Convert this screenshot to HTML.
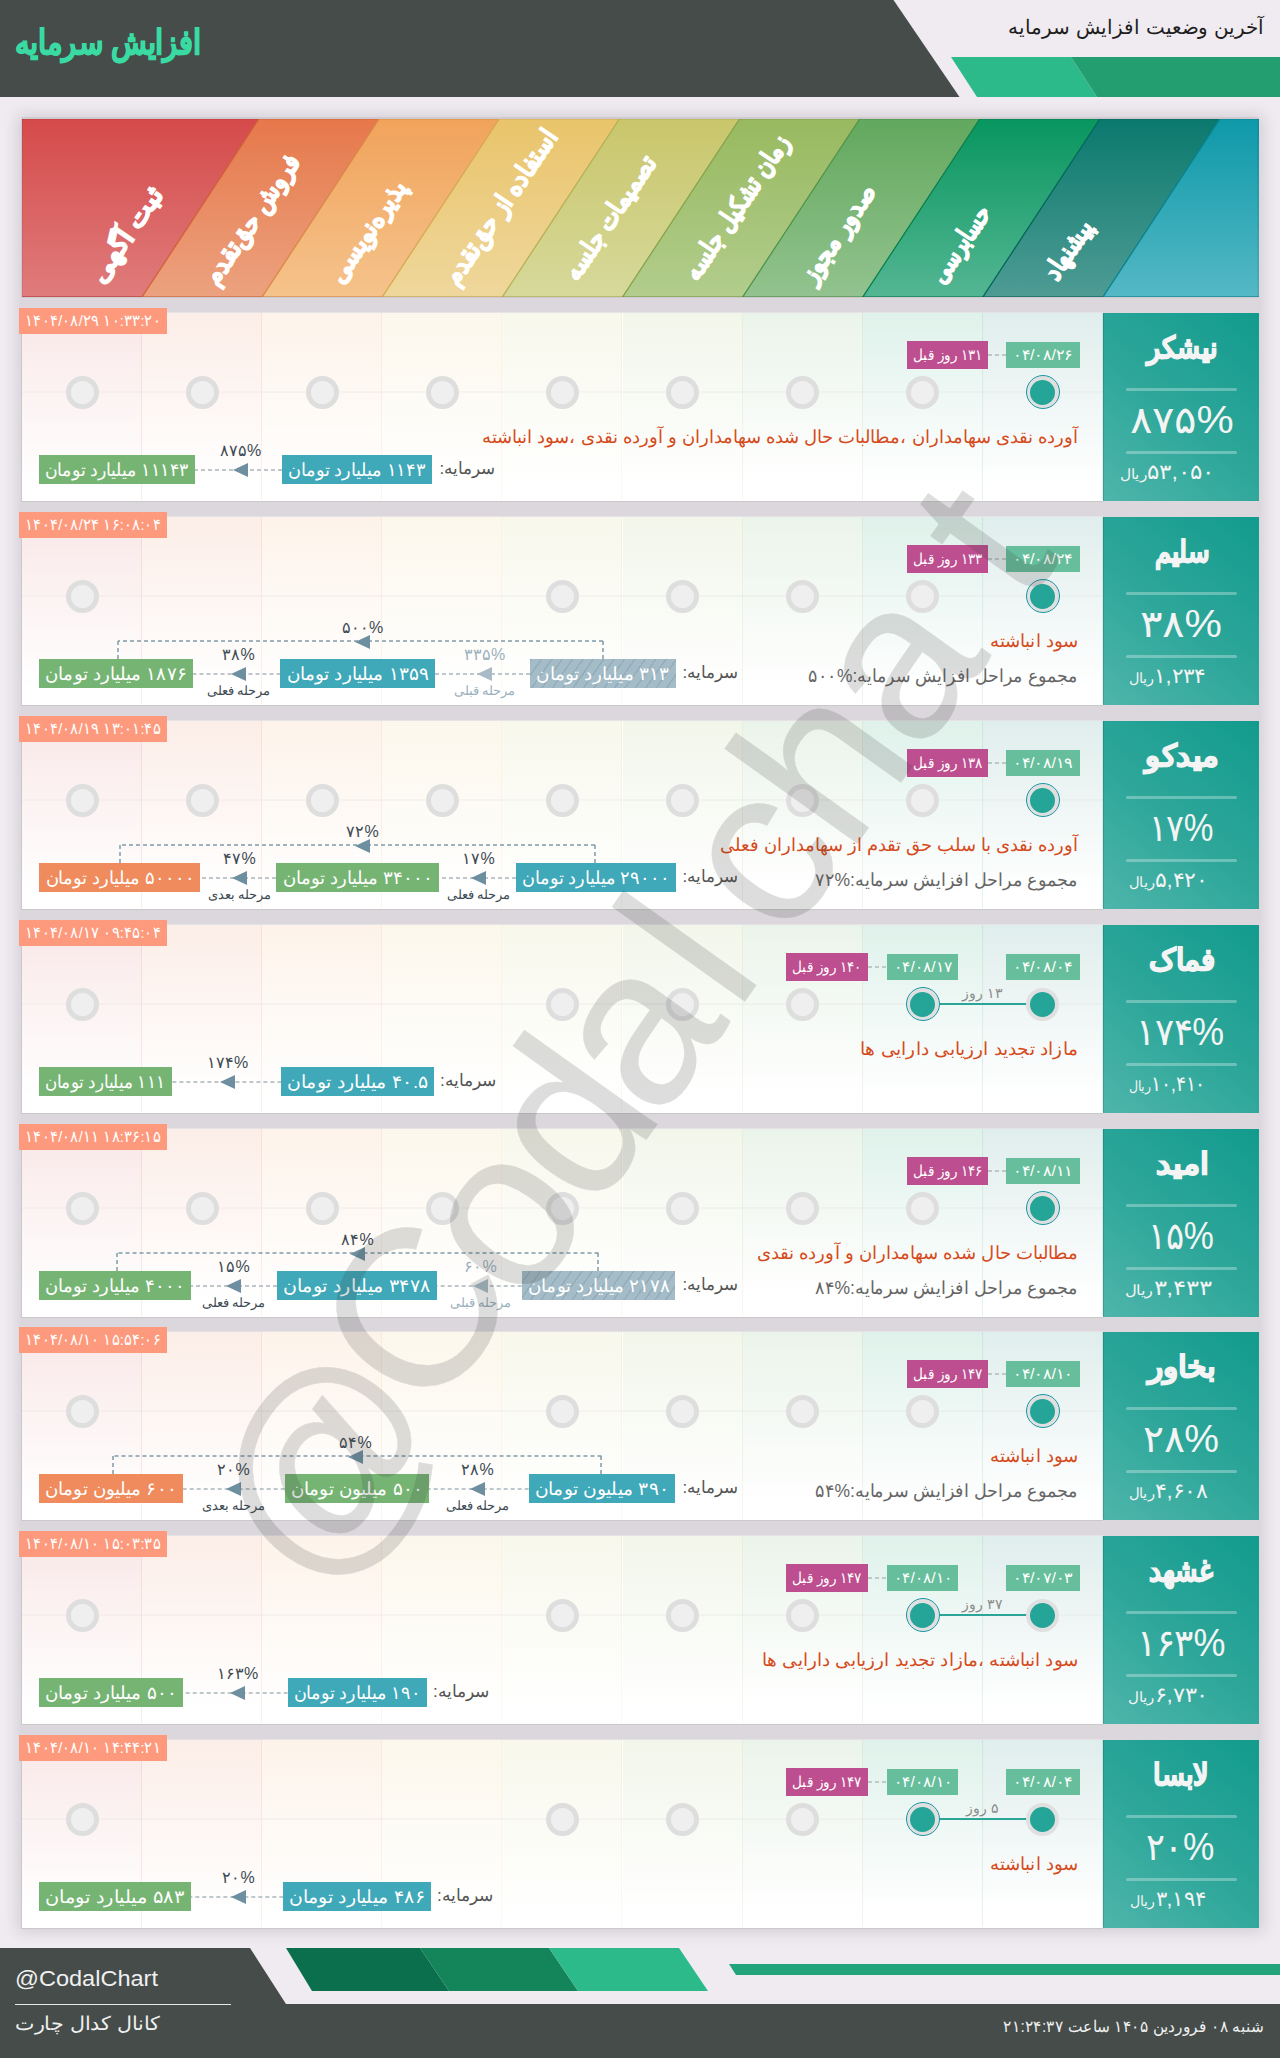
<!DOCTYPE html>
<html lang="fa"><head><meta charset="utf-8"><title>افزایش سرمایه</title>
<style>
html,body{margin:0;padding:0}
body{width:1280px;height:2058px;position:relative;overflow:hidden;background:#efebf0;font-family:"Liberation Sans",sans-serif}
.a{position:absolute}
.t{position:absolute;white-space:nowrap;overflow:visible}
.t>span{position:absolute;top:0;display:block;line-height:inherit}
</style></head><body>
<svg class="a" style="left:0;top:0" width="1280" height="100"><polygon points="0,0 893.5,0 959.5,97 0,97" fill="#454c4a"/><polygon points="951,57 1071,57 1097,97 977,97" fill="#2dba8a"/><polygon points="1071,57 1280,57 1280,97 1097,97" fill="#229e71"/></svg>
<div class="t" style="left:15.0px;top:15.0px;width:186.0px;height:54px;line-height:54px;direction:rtl;font-size:34.0px;color:#3adba3;font-weight:bold;-webkit-text-stroke:1.2px #3adba3;"><span id="t1" style="left:50%;transform:translateX(-50%) scaleX(0.859);transform-origin:50% 50%;">افزایش سرمایه</span></div>
<div class="t" style="left:1008.0px;top:11.0px;width:255.0px;height:32px;line-height:32px;direction:rtl;font-size:20.0px;color:#1e1e1e;font-weight:normal;"><span id="t2" style="left:50%;transform:translateX(-50%) scaleX(0.994);transform-origin:50% 50%;">آخرین وضعیت افزایش سرمایه</span></div>
<div class="a" style="left:22.0px;top:119.0px;width:1237.0px;height:1809.0px;background:#dbd7dc;box-shadow:0 0 14px 4px rgba(60,50,70,0.16);"></div>
<svg class="a" style="left:0;top:0" width="1280" height="300"><defs><linearGradient id="bg0" x1="0" y1="0" x2="0" y2="1"><stop offset="0" stop-color="#d54a4a"/><stop offset="1" stop-color="#e07c7c"/></linearGradient><linearGradient id="bg1" x1="0" y1="0" x2="0" y2="1"><stop offset="0" stop-color="#e6784b"/><stop offset="1" stop-color="#eca27f"/></linearGradient><linearGradient id="bg2" x1="0" y1="0" x2="0" y2="1"><stop offset="0" stop-color="#f1a35b"/><stop offset="1" stop-color="#f5c38c"/></linearGradient><linearGradient id="bg3" x1="0" y1="0" x2="0" y2="1"><stop offset="0" stop-color="#e9c46b"/><stop offset="1" stop-color="#efd79c"/></linearGradient><linearGradient id="bg4" x1="0" y1="0" x2="0" y2="1"><stop offset="0" stop-color="#c9c66b"/><stop offset="1" stop-color="#d7d99b"/></linearGradient><linearGradient id="bg5" x1="0" y1="0" x2="0" y2="1"><stop offset="0" stop-color="#98b95f"/><stop offset="1" stop-color="#b2cd8d"/></linearGradient><linearGradient id="bg6" x1="0" y1="0" x2="0" y2="1"><stop offset="0" stop-color="#62a85e"/><stop offset="1" stop-color="#93c38f"/></linearGradient><linearGradient id="bg7" x1="0" y1="0" x2="0" y2="1"><stop offset="0" stop-color="#08965f"/><stop offset="1" stop-color="#54b693"/></linearGradient><linearGradient id="bg8" x1="0" y1="0" x2="0" y2="1"><stop offset="0" stop-color="#0b796e"/><stop offset="1" stop-color="#4e9c94"/></linearGradient><linearGradient id="bg9" x1="0" y1="0" x2="0" y2="1"><stop offset="0" stop-color="#0e99a9"/><stop offset="1" stop-color="#55b8c5"/></linearGradient><clipPath id="stc"><rect x="22" y="119" width="1237" height="178"/></clipPath></defs><g clip-path="url(#stc)"><polygon points="-61.0,119 259.1,119 142.1,297 -178.0,297" fill="url(#bg0)" stroke="#c43c3c" stroke-width="1.2"/><polygon points="259.1,119 379.2,119 262.2,297 142.1,297" fill="url(#bg1)" stroke="#d4683c" stroke-width="1.2"/><polygon points="379.2,119 499.3,119 382.3,297 262.2,297" fill="url(#bg2)" stroke="#dc8f48" stroke-width="1.2"/><polygon points="499.3,119 619.4,119 502.4,297 382.3,297" fill="url(#bg3)" stroke="#d5ae55" stroke-width="1.2"/><polygon points="619.4,119 739.6,119 622.6,297 502.4,297" fill="url(#bg4)" stroke="#b3b258" stroke-width="1.2"/><polygon points="739.6,119 859.7,119 742.7,297 622.6,297" fill="url(#bg5)" stroke="#82a44c" stroke-width="1.2"/><polygon points="859.7,119 979.8,119 862.8,297 742.7,297" fill="url(#bg6)" stroke="#4f944c" stroke-width="1.2"/><polygon points="979.8,119 1099.9,119 982.9,297 862.8,297" fill="url(#bg7)" stroke="#067f50" stroke-width="1.2"/><polygon points="1099.9,119 1220.0,119 1103.0,297 982.9,297" fill="url(#bg8)" stroke="#06665c" stroke-width="1.2"/><polygon points="1220.0,119 1559.0,119 1559.0,297 1103.0,297" fill="url(#bg9)" stroke="#0b8898" stroke-width="1.2"/></g><rect x="22" y="118" width="1236" height="179" fill="none" stroke="rgba(0,0,0,0.12)" stroke-width="1"/></svg>
<div class="a" style="left:108.0px;top:288.0px;width:0;height:0"><div id="t3" style="position:absolute;left:0;bottom:0;height:30px;line-height:30px;transform-origin:0 100%;transform:rotate(-56.0deg) scaleX(1.072);white-space:nowrap;direction:rtl;font-size:26px;font-weight:bold;color:#fff;-webkit-text-stroke:1.3px #fff">ثبت آگهی</div></div>
<div class="a" style="left:221.5px;top:290.0px;width:0;height:0"><div id="t4" style="position:absolute;left:0;bottom:0;height:30px;line-height:30px;transform-origin:0 100%;transform:rotate(-56.0deg) scaleX(0.906);white-space:nowrap;direction:rtl;font-size:26px;font-weight:bold;color:#fff;-webkit-text-stroke:1.3px #fff">فروش حق‌تقدم</div></div>
<div class="a" style="left:346.5px;top:288.0px;width:0;height:0"><div id="t5" style="position:absolute;left:0;bottom:0;height:30px;line-height:30px;transform-origin:0 100%;transform:rotate(-56.0deg) scaleX(0.918);white-space:nowrap;direction:rtl;font-size:26px;font-weight:bold;color:#fff;-webkit-text-stroke:1.3px #fff">پذیره‌نویسی</div></div>
<div class="a" style="left:462.0px;top:290.0px;width:0;height:0"><div id="t6" style="position:absolute;left:0;bottom:0;height:30px;line-height:30px;transform-origin:0 100%;transform:rotate(-56.0deg) scaleX(0.876);white-space:nowrap;direction:rtl;font-size:26px;font-weight:bold;color:#fff;-webkit-text-stroke:1.3px #fff">استفاده از حق‌تقدم</div></div>
<div class="a" style="left:582.0px;top:285.0px;width:0;height:0"><div id="t7" style="position:absolute;left:0;bottom:0;height:30px;line-height:30px;transform-origin:0 100%;transform:rotate(-56.0deg) scaleX(0.848);white-space:nowrap;direction:rtl;font-size:26px;font-weight:bold;color:#fff;-webkit-text-stroke:1.3px #fff">تصمیمات جلسه</div></div>
<div class="a" style="left:702.0px;top:285.0px;width:0;height:0"><div id="t8" style="position:absolute;left:0;bottom:0;height:30px;line-height:30px;transform-origin:0 100%;transform:rotate(-56.0deg) scaleX(0.830);white-space:nowrap;direction:rtl;font-size:26px;font-weight:bold;color:#fff;-webkit-text-stroke:1.3px #fff">زمان تشکیل جلسه</div></div>
<div class="a" style="left:819.0px;top:288.0px;width:0;height:0"><div id="t9" style="position:absolute;left:0;bottom:0;height:30px;line-height:30px;transform-origin:0 100%;transform:rotate(-56.0deg) scaleX(0.888);white-space:nowrap;direction:rtl;font-size:26px;font-weight:bold;color:#fff;-webkit-text-stroke:1.3px #fff">صدور مجوز</div></div>
<div class="a" style="left:948.0px;top:288.0px;width:0;height:0"><div id="t10" style="position:absolute;left:0;bottom:0;height:30px;line-height:30px;transform-origin:0 100%;transform:rotate(-56.0deg) scaleX(0.775);white-space:nowrap;direction:rtl;font-size:26px;font-weight:bold;color:#fff;-webkit-text-stroke:1.3px #fff">حسابرسی</div></div>
<div class="a" style="left:1062.0px;top:285.0px;width:0;height:0"><div id="t11" style="position:absolute;left:0;bottom:0;height:30px;line-height:30px;transform-origin:0 100%;transform:rotate(-56.0deg) scaleX(0.842);white-space:nowrap;direction:rtl;font-size:26px;font-weight:bold;color:#fff;-webkit-text-stroke:1.3px #fff">پیشنهاد</div></div>
<div class="a" style="left:21px;top:312px;width:1082px;height:190px;box-sizing:border-box;background:#fff;border-left:1px solid #c9c9c9;border-bottom:1px solid #c9c9c9;border-top:1px solid #e6e3e6"><div class="a" style="left:0.0px;top:0;width:119.1px;height:187px;background:linear-gradient(to bottom,rgba(213,74,74,0.13),rgba(213,74,74,0.0) 92%);border-right:1px solid rgba(213,74,74,0.11)"></div><div class="a" style="left:120.1px;top:0;width:119.1px;height:187px;background:linear-gradient(to bottom,rgba(230,120,75,0.13),rgba(230,120,75,0.0) 92%);border-right:1px solid rgba(230,120,75,0.11)"></div><div class="a" style="left:240.2px;top:0;width:119.1px;height:187px;background:linear-gradient(to bottom,rgba(241,163,91,0.13),rgba(241,163,91,0.0) 92%);border-right:1px solid rgba(241,163,91,0.11)"></div><div class="a" style="left:360.3px;top:0;width:119.1px;height:187px;background:linear-gradient(to bottom,rgba(233,196,107,0.13),rgba(233,196,107,0.0) 92%);border-right:1px solid rgba(233,196,107,0.11)"></div><div class="a" style="left:480.4px;top:0;width:119.1px;height:187px;background:linear-gradient(to bottom,rgba(201,198,107,0.13),rgba(201,198,107,0.0) 92%);border-right:1px solid rgba(201,198,107,0.11)"></div><div class="a" style="left:600.6px;top:0;width:119.1px;height:187px;background:linear-gradient(to bottom,rgba(152,185,95,0.13),rgba(152,185,95,0.0) 92%);border-right:1px solid rgba(152,185,95,0.11)"></div><div class="a" style="left:720.7px;top:0;width:119.1px;height:187px;background:linear-gradient(to bottom,rgba(98,168,94,0.13),rgba(98,168,94,0.0) 92%);border-right:1px solid rgba(98,168,94,0.11)"></div><div class="a" style="left:840.8px;top:0;width:119.1px;height:187px;background:linear-gradient(to bottom,rgba(8,150,95,0.13),rgba(8,150,95,0.0) 92%);border-right:1px solid rgba(8,150,95,0.11)"></div><div class="a" style="left:960.9px;top:0;width:119.1px;height:187px;background:linear-gradient(to bottom,rgba(11,121,110,0.13),rgba(11,121,110,0.0) 92%);border-right:1px solid rgba(11,121,110,0.11)"></div></div>
<div class="a" style="left:22.0px;top:391.0px;width:1081.0px;height:2.0px;background:rgba(225,220,225,0.22)"></div>
<div class="a" style="left:65.6px;top:375.5px;width:33.0px;height:33.0px;box-sizing:border-box;border-radius:50%;border:5.5px solid #dedede;background:#efefef"></div>
<div class="a" style="left:185.7px;top:375.5px;width:33.0px;height:33.0px;box-sizing:border-box;border-radius:50%;border:5.5px solid #dedede;background:#efefef"></div>
<div class="a" style="left:305.8px;top:375.5px;width:33.0px;height:33.0px;box-sizing:border-box;border-radius:50%;border:5.5px solid #dedede;background:#efefef"></div>
<div class="a" style="left:425.9px;top:375.5px;width:33.0px;height:33.0px;box-sizing:border-box;border-radius:50%;border:5.5px solid #dedede;background:#efefef"></div>
<div class="a" style="left:546.0px;top:375.5px;width:33.0px;height:33.0px;box-sizing:border-box;border-radius:50%;border:5.5px solid #dedede;background:#efefef"></div>
<div class="a" style="left:666.1px;top:375.5px;width:33.0px;height:33.0px;box-sizing:border-box;border-radius:50%;border:5.5px solid #dedede;background:#efefef"></div>
<div class="a" style="left:786.2px;top:375.5px;width:33.0px;height:33.0px;box-sizing:border-box;border-radius:50%;border:5.5px solid #dedede;background:#efefef"></div>
<div class="a" style="left:906.3px;top:375.5px;width:33.0px;height:33.0px;box-sizing:border-box;border-radius:50%;border:5.5px solid #dedede;background:#efefef"></div>
<div class="a" style="left:1025.9px;top:375.0px;width:34.0px;height:34.0px;box-sizing:border-box;border-radius:50%;border:1.6px solid #1a97a6;background:#e0e0e0"></div>
<div class="a" style="left:1030.4px;top:379.5px;width:25.0px;height:25.0px;border-radius:50%;background:#25a598"></div>
<svg class="a" style="left:986.0px;top:353.0px" width="22.0" height="4.0"><line x1="2.0" y1="2.0" x2="20.0" y2="2.0" stroke="#b3baba" stroke-width="1.5" stroke-dasharray="4 3"/></svg>
<div class="a" style="left:1006.0px;top:342.0px;width:74.0px;height:26.0px;background:#67be9c"></div>
<div class="t" style="left:1006.0px;top:343.0px;width:74.0px;height:24px;line-height:24px;direction:ltr;font-size:15.0px;color:#fff;font-weight:normal;"><span id="t12" style="left:50%;transform:translateX(-50%) scaleX(1.065);transform-origin:50% 50%;">۰۴/۰۸/۲۶</span></div>
<div class="a" style="left:907.0px;top:341.0px;width:81.0px;height:28.0px;background:#bd4e8f"></div>
<div class="t" style="left:907.0px;top:343.0px;width:81.0px;height:24px;line-height:24px;direction:rtl;font-size:15.0px;color:#fff;font-weight:normal;"><span id="t13" style="left:50%;transform:translateX(-50%) scaleX(0.904);transform-origin:50% 50%;">۱۳۱ روز قبل</span></div>
<div class="a" style="left:19.0px;top:308.0px;width:148.0px;height:26.0px;background:#fd9a7d"></div>
<div class="t" style="left:19.0px;top:309.0px;width:148.0px;height:24px;line-height:24px;direction:ltr;font-size:15.5px;color:#fff;font-weight:normal;"><span id="t14" style="left:50%;transform:translateX(-50%) scaleX(0.922);transform-origin:50% 50%;">۱۴۰۴/۰۸/۲۹ ۱۰:۳۳:۲۰</span></div>
<div class="t" style="left:482.0px;top:423.0px;width:596.0px;height:28px;line-height:28px;direction:rtl;font-size:18.0px;color:#d64b1c;font-weight:normal;"><span id="t15" style="right:0;transform:scaleX(1.003);transform-origin:100% 50%;">آورده نقدی سهامداران ،مطالبات حال شده سهامداران و آورده نقدی ،سود انباشته</span></div>
<svg class="a" style="left:193.0px;top:467.5px" width="91.0" height="4.0"><line x1="89.0" y1="2.0" x2="2.0" y2="2.0" stroke="#a9b5bc" stroke-width="1.5" stroke-dasharray="4 3"/></svg>
<div class="a" style="left:39.0px;top:455.0px;width:156.0px;height:29.0px;background:#76b473"></div>
<div class="t" style="left:45.0px;top:455.5px;width:144.0px;height:28px;line-height:28px;direction:rtl;font-size:17.5px;color:#fff;font-weight:normal;"><span id="t16" style="left:50%;transform:translateX(-50%) scaleX(0.962);transform-origin:50% 50%;">۱۱۱۴۳ میلیارد تومان</span></div>
<div class="a" style="left:282.0px;top:455.0px;width:150.0px;height:29.0px;background:#3fa8b9"></div>
<div class="t" style="left:288.0px;top:455.5px;width:138.0px;height:28px;line-height:28px;direction:rtl;font-size:17.5px;color:#fff;font-weight:normal;"><span id="t17" style="left:50%;transform:translateX(-50%) scaleX(0.988);transform-origin:50% 50%;">۱۱۴۳ میلیارد تومان</span></div>
<div class="t" style="left:439.0px;top:455.0px;width:55.0px;height:27px;line-height:27px;direction:rtl;font-size:17.0px;color:#555;font-weight:normal;"><span id="t18" style="left:50%;transform:translateX(-50%) scaleX(0.987);transform-origin:50% 50%;">سرمایه:</span></div>
<svg class="a" style="left:233.0px;top:461.5px" width="16" height="16"><polygon points="0,8 15,1 15,15" fill="#6d8fa0"/></svg>
<div class="t" style="left:208.0px;top:438.0px;width:65.0px;height:25px;line-height:25px;direction:rtl;font-size:16.0px;color:#3d4a52;font-weight:normal;"><span id="t19" style="left:50%;transform:translateX(-50%) scaleX(1.000);transform-origin:50% 50%;">۸۷۵%</span></div>
<div class="a" style="left:1103px;top:313px;width:156px;height:188px;background:linear-gradient(40deg,#4fb5ab 0%,#2ea79a 45%,#129b8e 100%);box-shadow:inset 1px 0 0 rgba(0,60,50,0.18)"></div>
<div class="a" style="left:1126.0px;top:388.0px;width:111.0px;height:3.0px;background:rgba(255,255,255,0.3);border-radius:2px"></div>
<div class="a" style="left:1126.0px;top:451.0px;width:111.0px;height:3.0px;background:rgba(255,255,255,0.3);border-radius:2px"></div>
<div class="t" style="left:1146.4px;top:324.0px;width:70.9px;height:48px;line-height:48px;direction:rtl;font-size:30.0px;color:#f4f4f4;font-weight:bold;-webkit-text-stroke:1.3px #f4f4f4;"><span id="t20" style="left:50%;transform:translateX(-50%) scaleX(0.909);transform-origin:50% 50%;">نیشکر</span></div>
<div class="t" style="left:1130.5px;top:390.0px;width:103.3px;height:60px;line-height:60px;direction:rtl;font-size:38.0px;color:#f4f4f4;font-weight:normal;"><span id="t21" style="left:50%;transform:translateX(-50%) scaleX(1.101);transform-origin:50% 50%;">۸۷۵%</span></div>
<div class="t" style="left:1120.4px;top:454.5px;width:94.0px;height:33px;line-height:33px;direction:rtl;font-size:21.0px;color:#f4f4f4;font-weight:normal;"><span id="t22" style="left:50%;transform:translateX(-50%) scaleX(1.095);transform-origin:50% 50%;">۵۳,۰۵۰<span style="font-size:14px">ریال</span></span></div>
<div class="a" style="left:21px;top:516px;width:1082px;height:190px;box-sizing:border-box;background:#fff;border-left:1px solid #c9c9c9;border-bottom:1px solid #c9c9c9;border-top:1px solid #e6e3e6"><div class="a" style="left:0.0px;top:0;width:119.1px;height:187px;background:linear-gradient(to bottom,rgba(213,74,74,0.13),rgba(213,74,74,0.0) 92%);border-right:1px solid rgba(213,74,74,0.11)"></div><div class="a" style="left:120.1px;top:0;width:119.1px;height:187px;background:linear-gradient(to bottom,rgba(230,120,75,0.13),rgba(230,120,75,0.0) 92%);border-right:1px solid rgba(230,120,75,0.11)"></div><div class="a" style="left:240.2px;top:0;width:119.1px;height:187px;background:linear-gradient(to bottom,rgba(241,163,91,0.13),rgba(241,163,91,0.0) 92%);border-right:1px solid rgba(241,163,91,0.11)"></div><div class="a" style="left:360.3px;top:0;width:119.1px;height:187px;background:linear-gradient(to bottom,rgba(233,196,107,0.13),rgba(233,196,107,0.0) 92%);border-right:1px solid rgba(233,196,107,0.11)"></div><div class="a" style="left:480.4px;top:0;width:119.1px;height:187px;background:linear-gradient(to bottom,rgba(201,198,107,0.13),rgba(201,198,107,0.0) 92%);border-right:1px solid rgba(201,198,107,0.11)"></div><div class="a" style="left:600.6px;top:0;width:119.1px;height:187px;background:linear-gradient(to bottom,rgba(152,185,95,0.13),rgba(152,185,95,0.0) 92%);border-right:1px solid rgba(152,185,95,0.11)"></div><div class="a" style="left:720.7px;top:0;width:119.1px;height:187px;background:linear-gradient(to bottom,rgba(98,168,94,0.13),rgba(98,168,94,0.0) 92%);border-right:1px solid rgba(98,168,94,0.11)"></div><div class="a" style="left:840.8px;top:0;width:119.1px;height:187px;background:linear-gradient(to bottom,rgba(8,150,95,0.13),rgba(8,150,95,0.0) 92%);border-right:1px solid rgba(8,150,95,0.11)"></div><div class="a" style="left:960.9px;top:0;width:119.1px;height:187px;background:linear-gradient(to bottom,rgba(11,121,110,0.13),rgba(11,121,110,0.0) 92%);border-right:1px solid rgba(11,121,110,0.11)"></div></div>
<div class="a" style="left:22.0px;top:595.0px;width:1081.0px;height:2.0px;background:rgba(225,220,225,0.22)"></div>
<div class="a" style="left:65.6px;top:579.5px;width:33.0px;height:33.0px;box-sizing:border-box;border-radius:50%;border:5.5px solid #dedede;background:#efefef"></div>
<div class="a" style="left:546.0px;top:579.5px;width:33.0px;height:33.0px;box-sizing:border-box;border-radius:50%;border:5.5px solid #dedede;background:#efefef"></div>
<div class="a" style="left:666.1px;top:579.5px;width:33.0px;height:33.0px;box-sizing:border-box;border-radius:50%;border:5.5px solid #dedede;background:#efefef"></div>
<div class="a" style="left:786.2px;top:579.5px;width:33.0px;height:33.0px;box-sizing:border-box;border-radius:50%;border:5.5px solid #dedede;background:#efefef"></div>
<div class="a" style="left:906.3px;top:579.5px;width:33.0px;height:33.0px;box-sizing:border-box;border-radius:50%;border:5.5px solid #dedede;background:#efefef"></div>
<div class="a" style="left:1025.9px;top:579.0px;width:34.0px;height:34.0px;box-sizing:border-box;border-radius:50%;border:1.6px solid #1a97a6;background:#e0e0e0"></div>
<div class="a" style="left:1030.4px;top:583.5px;width:25.0px;height:25.0px;border-radius:50%;background:#25a598"></div>
<svg class="a" style="left:986.0px;top:557.0px" width="22.0" height="4.0"><line x1="2.0" y1="2.0" x2="20.0" y2="2.0" stroke="#b3baba" stroke-width="1.5" stroke-dasharray="4 3"/></svg>
<div class="a" style="left:1006.0px;top:546.0px;width:74.0px;height:26.0px;background:#67be9c"></div>
<div class="t" style="left:1006.0px;top:547.0px;width:74.0px;height:24px;line-height:24px;direction:ltr;font-size:15.0px;color:#fff;font-weight:normal;"><span id="t23" style="left:50%;transform:translateX(-50%) scaleX(1.065);transform-origin:50% 50%;">۰۴/۰۸/۲۴</span></div>
<div class="a" style="left:907.0px;top:545.0px;width:81.0px;height:28.0px;background:#bd4e8f"></div>
<div class="t" style="left:907.0px;top:547.0px;width:81.0px;height:24px;line-height:24px;direction:rtl;font-size:15.0px;color:#fff;font-weight:normal;"><span id="t24" style="left:50%;transform:translateX(-50%) scaleX(0.904);transform-origin:50% 50%;">۱۳۳ روز قبل</span></div>
<div class="a" style="left:19.0px;top:512.0px;width:148.0px;height:26.0px;background:#fd9a7d"></div>
<div class="t" style="left:19.0px;top:513.0px;width:148.0px;height:24px;line-height:24px;direction:ltr;font-size:15.5px;color:#fff;font-weight:normal;"><span id="t25" style="left:50%;transform:translateX(-50%) scaleX(0.922);transform-origin:50% 50%;">۱۴۰۴/۰۸/۲۴ ۱۶:۰۸:۰۴</span></div>
<div class="t" style="left:990.0px;top:627.0px;width:88.0px;height:28px;line-height:28px;direction:rtl;font-size:18.0px;color:#d64b1c;font-weight:normal;"><span id="t26" style="right:0;transform:scaleX(1.011);transform-origin:100% 50%;">سود انباشته</span></div>
<div class="t" style="left:808.0px;top:662.0px;width:270.0px;height:28px;line-height:28px;direction:rtl;font-size:18.0px;color:#666;font-weight:normal;"><span id="t27" style="right:0;transform:scaleX(0.964);transform-origin:100% 50%;">مجموع مراحل افزایش سرمایه:<span dir="ltr" style="unicode-bidi:isolate">۵۰۰%</span></span></div>
<svg class="a" style="left:190.5px;top:671.5px" width="91.5" height="4.0"><line x1="89.5" y1="2.0" x2="2.0" y2="2.0" stroke="#a9b5bc" stroke-width="1.5" stroke-dasharray="4 3"/></svg>
<svg class="a" style="left:433.0px;top:671.5px" width="99.0" height="4.0"><line x1="97.0" y1="2.0" x2="2.0" y2="2.0" stroke="#a9b5bc" stroke-width="1.5" stroke-dasharray="4 3"/></svg>
<div class="a" style="left:39.0px;top:659.0px;width:153.5px;height:29.0px;background:#76b473"></div>
<div class="t" style="left:45.0px;top:659.5px;width:141.5px;height:28px;line-height:28px;direction:rtl;font-size:17.5px;color:#fff;font-weight:normal;"><span id="t28" style="left:50%;transform:translateX(-50%) scaleX(1.013);transform-origin:50% 50%;">۱۸۷۶ میلیارد تومان</span></div>
<div class="a" style="left:280.0px;top:659.0px;width:155.0px;height:29.0px;background:#3fa8b9"></div>
<div class="t" style="left:286.0px;top:659.5px;width:143.0px;height:28px;line-height:28px;direction:rtl;font-size:17.5px;color:#fff;font-weight:normal;"><span id="t29" style="left:50%;transform:translateX(-50%) scaleX(1.023);transform-origin:50% 50%;">۱۳۵۹ میلیارد تومان</span></div>
<div class="a" style="left:530.0px;top:659.0px;width:145.5px;height:29.0px;background:repeating-linear-gradient(-55deg,#a4bcc7 0 7px,#95adb8 7px 8.5px)"></div>
<div class="t" style="left:536.0px;top:659.5px;width:133.5px;height:28px;line-height:28px;direction:rtl;font-size:17.5px;color:#fff;font-weight:normal;"><span id="t30" style="left:50%;transform:translateX(-50%) scaleX(1.029);transform-origin:50% 50%;">۳۱۳ میلیارد تومان</span></div>
<div class="t" style="left:682.0px;top:659.0px;width:55.0px;height:27px;line-height:27px;direction:rtl;font-size:17.0px;color:#555;font-weight:normal;"><span id="t31" style="left:50%;transform:translateX(-50%) scaleX(0.987);transform-origin:50% 50%;">سرمایه:</span></div>
<svg class="a" style="left:231.0px;top:665.5px" width="16" height="16"><polygon points="0,8 15,1 15,15" fill="#6d8fa0"/></svg>
<div class="t" style="left:206.0px;top:642.0px;width:65.0px;height:25px;line-height:25px;direction:rtl;font-size:16.0px;color:#3d4a52;font-weight:normal;"><span id="t32" style="left:50%;transform:translateX(-50%) scaleX(1.000);transform-origin:50% 50%;">۳۸%</span></div>
<div class="t" style="left:196.0px;top:680.5px;width:85.0px;height:20px;line-height:20px;direction:rtl;font-size:13.0px;color:#3d4a52;font-weight:normal;"><span id="t33" style="left:50%;transform:translateX(-50%) scaleX(1.000);transform-origin:50% 50%;">مرحله فعلی</span></div>
<svg class="a" style="left:477.0px;top:665.5px" width="16" height="16"><polygon points="0,8 15,1 15,15" fill="#a7bcc7"/></svg>
<div class="t" style="left:452.0px;top:642.0px;width:65.0px;height:25px;line-height:25px;direction:rtl;font-size:16.0px;color:#9ab1bd;font-weight:normal;"><span id="t34" style="left:50%;transform:translateX(-50%) scaleX(1.000);transform-origin:50% 50%;">۳۳۵%</span></div>
<div class="t" style="left:442.0px;top:680.5px;width:85.0px;height:20px;line-height:20px;direction:rtl;font-size:13.0px;color:#9ab1bd;font-weight:normal;"><span id="t35" style="left:50%;transform:translateX(-50%) scaleX(1.000);transform-origin:50% 50%;">مرحله قبلی</span></div>
<svg class="a" style="left:115.5px;top:639.0px" width="489.0" height="4.0"><line x1="487.0" y1="2.0" x2="2.0" y2="2.0" stroke="#7f9aa8" stroke-width="1.5" stroke-dasharray="4 3"/></svg>
<svg class="a" style="left:115.5px;top:639.0px" width="4.0" height="22.0"><line x1="2.0" y1="2.0" x2="2.0" y2="20.0" stroke="#7f9aa8" stroke-width="1.5" stroke-dasharray="4 3"/></svg>
<svg class="a" style="left:600.5px;top:639.0px" width="4.0" height="22.0"><line x1="2.0" y1="2.0" x2="2.0" y2="20.0" stroke="#7f9aa8" stroke-width="1.5" stroke-dasharray="4 3"/></svg>
<svg class="a" style="left:355.0px;top:634.0px" width="16" height="16"><polygon points="0,8 15,1 15,15" fill="#6d8fa0"/></svg>
<div class="t" style="left:330.0px;top:614.5px;width:65.0px;height:25px;line-height:25px;direction:rtl;font-size:16.0px;color:#3d4a52;font-weight:normal;"><span id="t36" style="left:50%;transform:translateX(-50%) scaleX(1.000);transform-origin:50% 50%;">۵۰۰%</span></div>
<div class="a" style="left:1103px;top:517px;width:156px;height:188px;background:linear-gradient(40deg,#4fb5ab 0%,#2ea79a 45%,#129b8e 100%);box-shadow:inset 1px 0 0 rgba(0,60,50,0.18)"></div>
<div class="a" style="left:1126.0px;top:592.0px;width:111.0px;height:3.0px;background:rgba(255,255,255,0.3);border-radius:2px"></div>
<div class="a" style="left:1126.0px;top:655.0px;width:111.0px;height:3.0px;background:rgba(255,255,255,0.3);border-radius:2px"></div>
<div class="t" style="left:1154.5px;top:528.0px;width:55.0px;height:48px;line-height:48px;direction:rtl;font-size:30.0px;color:#f4f4f4;font-weight:bold;-webkit-text-stroke:1.3px #f4f4f4;"><span id="t37" style="left:50%;transform:translateX(-50%) scaleX(0.859);transform-origin:50% 50%;">سلیم</span></div>
<div class="t" style="left:1140.6px;top:594.0px;width:81.6px;height:60px;line-height:60px;direction:rtl;font-size:38.0px;color:#f4f4f4;font-weight:normal;"><span id="t38" style="left:50%;transform:translateX(-50%) scaleX(1.106);transform-origin:50% 50%;">۳۸%</span></div>
<div class="t" style="left:1129.0px;top:658.5px;width:76.7px;height:33px;line-height:33px;direction:rtl;font-size:21.0px;color:#f4f4f4;font-weight:normal;"><span id="t39" style="left:50%;transform:translateX(-50%) scaleX(1.025);transform-origin:50% 50%;">۱,۲۳۴<span style="font-size:14px">ریال</span></span></div>
<div class="a" style="left:21px;top:720px;width:1082px;height:190px;box-sizing:border-box;background:#fff;border-left:1px solid #c9c9c9;border-bottom:1px solid #c9c9c9;border-top:1px solid #e6e3e6"><div class="a" style="left:0.0px;top:0;width:119.1px;height:187px;background:linear-gradient(to bottom,rgba(213,74,74,0.13),rgba(213,74,74,0.0) 92%);border-right:1px solid rgba(213,74,74,0.11)"></div><div class="a" style="left:120.1px;top:0;width:119.1px;height:187px;background:linear-gradient(to bottom,rgba(230,120,75,0.13),rgba(230,120,75,0.0) 92%);border-right:1px solid rgba(230,120,75,0.11)"></div><div class="a" style="left:240.2px;top:0;width:119.1px;height:187px;background:linear-gradient(to bottom,rgba(241,163,91,0.13),rgba(241,163,91,0.0) 92%);border-right:1px solid rgba(241,163,91,0.11)"></div><div class="a" style="left:360.3px;top:0;width:119.1px;height:187px;background:linear-gradient(to bottom,rgba(233,196,107,0.13),rgba(233,196,107,0.0) 92%);border-right:1px solid rgba(233,196,107,0.11)"></div><div class="a" style="left:480.4px;top:0;width:119.1px;height:187px;background:linear-gradient(to bottom,rgba(201,198,107,0.13),rgba(201,198,107,0.0) 92%);border-right:1px solid rgba(201,198,107,0.11)"></div><div class="a" style="left:600.6px;top:0;width:119.1px;height:187px;background:linear-gradient(to bottom,rgba(152,185,95,0.13),rgba(152,185,95,0.0) 92%);border-right:1px solid rgba(152,185,95,0.11)"></div><div class="a" style="left:720.7px;top:0;width:119.1px;height:187px;background:linear-gradient(to bottom,rgba(98,168,94,0.13),rgba(98,168,94,0.0) 92%);border-right:1px solid rgba(98,168,94,0.11)"></div><div class="a" style="left:840.8px;top:0;width:119.1px;height:187px;background:linear-gradient(to bottom,rgba(8,150,95,0.13),rgba(8,150,95,0.0) 92%);border-right:1px solid rgba(8,150,95,0.11)"></div><div class="a" style="left:960.9px;top:0;width:119.1px;height:187px;background:linear-gradient(to bottom,rgba(11,121,110,0.13),rgba(11,121,110,0.0) 92%);border-right:1px solid rgba(11,121,110,0.11)"></div></div>
<div class="a" style="left:22.0px;top:799.0px;width:1081.0px;height:2.0px;background:rgba(225,220,225,0.22)"></div>
<div class="a" style="left:65.6px;top:783.5px;width:33.0px;height:33.0px;box-sizing:border-box;border-radius:50%;border:5.5px solid #dedede;background:#efefef"></div>
<div class="a" style="left:185.7px;top:783.5px;width:33.0px;height:33.0px;box-sizing:border-box;border-radius:50%;border:5.5px solid #dedede;background:#efefef"></div>
<div class="a" style="left:305.8px;top:783.5px;width:33.0px;height:33.0px;box-sizing:border-box;border-radius:50%;border:5.5px solid #dedede;background:#efefef"></div>
<div class="a" style="left:425.9px;top:783.5px;width:33.0px;height:33.0px;box-sizing:border-box;border-radius:50%;border:5.5px solid #dedede;background:#efefef"></div>
<div class="a" style="left:546.0px;top:783.5px;width:33.0px;height:33.0px;box-sizing:border-box;border-radius:50%;border:5.5px solid #dedede;background:#efefef"></div>
<div class="a" style="left:666.1px;top:783.5px;width:33.0px;height:33.0px;box-sizing:border-box;border-radius:50%;border:5.5px solid #dedede;background:#efefef"></div>
<div class="a" style="left:786.2px;top:783.5px;width:33.0px;height:33.0px;box-sizing:border-box;border-radius:50%;border:5.5px solid #dedede;background:#efefef"></div>
<div class="a" style="left:906.3px;top:783.5px;width:33.0px;height:33.0px;box-sizing:border-box;border-radius:50%;border:5.5px solid #dedede;background:#efefef"></div>
<div class="a" style="left:1025.9px;top:783.0px;width:34.0px;height:34.0px;box-sizing:border-box;border-radius:50%;border:1.6px solid #1a97a6;background:#e0e0e0"></div>
<div class="a" style="left:1030.4px;top:787.5px;width:25.0px;height:25.0px;border-radius:50%;background:#25a598"></div>
<svg class="a" style="left:986.0px;top:761.0px" width="22.0" height="4.0"><line x1="2.0" y1="2.0" x2="20.0" y2="2.0" stroke="#b3baba" stroke-width="1.5" stroke-dasharray="4 3"/></svg>
<div class="a" style="left:1006.0px;top:750.0px;width:74.0px;height:26.0px;background:#67be9c"></div>
<div class="t" style="left:1006.0px;top:751.0px;width:74.0px;height:24px;line-height:24px;direction:ltr;font-size:15.0px;color:#fff;font-weight:normal;"><span id="t40" style="left:50%;transform:translateX(-50%) scaleX(1.065);transform-origin:50% 50%;">۰۴/۰۸/۱۹</span></div>
<div class="a" style="left:907.0px;top:749.0px;width:81.0px;height:28.0px;background:#bd4e8f"></div>
<div class="t" style="left:907.0px;top:751.0px;width:81.0px;height:24px;line-height:24px;direction:rtl;font-size:15.0px;color:#fff;font-weight:normal;"><span id="t41" style="left:50%;transform:translateX(-50%) scaleX(0.904);transform-origin:50% 50%;">۱۳۸ روز قبل</span></div>
<div class="a" style="left:19.0px;top:716.0px;width:148.0px;height:26.0px;background:#fd9a7d"></div>
<div class="t" style="left:19.0px;top:717.0px;width:148.0px;height:24px;line-height:24px;direction:ltr;font-size:15.5px;color:#fff;font-weight:normal;"><span id="t42" style="left:50%;transform:translateX(-50%) scaleX(0.922);transform-origin:50% 50%;">۱۴۰۴/۰۸/۱۹ ۱۳:۰۱:۴۵</span></div>
<div class="t" style="left:720.0px;top:831.0px;width:358.0px;height:28px;line-height:28px;direction:rtl;font-size:18.0px;color:#d64b1c;font-weight:normal;"><span id="t43" style="right:0;transform:scaleX(1.000);transform-origin:100% 50%;">آورده نقدی با سلب حق تقدم از سهامداران فعلی</span></div>
<div class="t" style="left:815.0px;top:866.0px;width:263.0px;height:28px;line-height:28px;direction:rtl;font-size:18.0px;color:#666;font-weight:normal;"><span id="t44" style="right:0;transform:scaleX(0.974);transform-origin:100% 50%;">مجموع مراحل افزایش سرمایه:<span dir="ltr" style="unicode-bidi:isolate">۷۲%</span></span></div>
<svg class="a" style="left:198.0px;top:875.5px" width="80.0" height="4.0"><line x1="78.0" y1="2.0" x2="2.0" y2="2.0" stroke="#a9b5bc" stroke-width="1.5" stroke-dasharray="4 3"/></svg>
<svg class="a" style="left:437.0px;top:875.5px" width="81.0" height="4.0"><line x1="79.0" y1="2.0" x2="2.0" y2="2.0" stroke="#a9b5bc" stroke-width="1.5" stroke-dasharray="4 3"/></svg>
<div class="a" style="left:39.0px;top:863.0px;width:161.0px;height:29.0px;background:#ef8b5c"></div>
<div class="t" style="left:45.0px;top:863.5px;width:149.0px;height:28px;line-height:28px;direction:rtl;font-size:17.5px;color:#fff;font-weight:normal;"><span id="t45" style="left:50%;transform:translateX(-50%) scaleX(0.995);transform-origin:50% 50%;">۵۰۰۰۰ میلیارد تومان</span></div>
<div class="a" style="left:276.0px;top:863.0px;width:163.0px;height:29.0px;background:#76b473"></div>
<div class="t" style="left:282.0px;top:863.5px;width:151.0px;height:28px;line-height:28px;direction:rtl;font-size:17.5px;color:#fff;font-weight:normal;"><span id="t46" style="left:50%;transform:translateX(-50%) scaleX(1.008);transform-origin:50% 50%;">۳۴۰۰۰ میلیارد تومان</span></div>
<div class="a" style="left:516.0px;top:863.0px;width:159.5px;height:29.0px;background:#3fa8b9"></div>
<div class="t" style="left:522.0px;top:863.5px;width:147.5px;height:28px;line-height:28px;direction:rtl;font-size:17.5px;color:#fff;font-weight:normal;"><span id="t47" style="left:50%;transform:translateX(-50%) scaleX(0.985);transform-origin:50% 50%;">۲۹۰۰۰ میلیارد تومان</span></div>
<div class="t" style="left:682.0px;top:863.0px;width:55.0px;height:27px;line-height:27px;direction:rtl;font-size:17.0px;color:#555;font-weight:normal;"><span id="t48" style="left:50%;transform:translateX(-50%) scaleX(0.987);transform-origin:50% 50%;">سرمایه:</span></div>
<svg class="a" style="left:232.0px;top:869.5px" width="16" height="16"><polygon points="0,8 15,1 15,15" fill="#6d8fa0"/></svg>
<div class="t" style="left:207.0px;top:846.0px;width:65.0px;height:25px;line-height:25px;direction:rtl;font-size:16.0px;color:#3d4a52;font-weight:normal;"><span id="t49" style="left:50%;transform:translateX(-50%) scaleX(1.000);transform-origin:50% 50%;">۴۷%</span></div>
<div class="t" style="left:197.0px;top:884.5px;width:85.0px;height:20px;line-height:20px;direction:rtl;font-size:13.0px;color:#3d4a52;font-weight:normal;"><span id="t50" style="left:50%;transform:translateX(-50%) scaleX(1.000);transform-origin:50% 50%;">مرحله بعدی</span></div>
<svg class="a" style="left:471.0px;top:869.5px" width="16" height="16"><polygon points="0,8 15,1 15,15" fill="#6d8fa0"/></svg>
<div class="t" style="left:446.0px;top:846.0px;width:65.0px;height:25px;line-height:25px;direction:rtl;font-size:16.0px;color:#3d4a52;font-weight:normal;"><span id="t51" style="left:50%;transform:translateX(-50%) scaleX(1.000);transform-origin:50% 50%;">۱۷%</span></div>
<div class="t" style="left:436.0px;top:884.5px;width:85.0px;height:20px;line-height:20px;direction:rtl;font-size:13.0px;color:#3d4a52;font-weight:normal;"><span id="t52" style="left:50%;transform:translateX(-50%) scaleX(1.000);transform-origin:50% 50%;">مرحله فعلی</span></div>
<svg class="a" style="left:118.0px;top:843.0px" width="479.0" height="4.0"><line x1="477.0" y1="2.0" x2="2.0" y2="2.0" stroke="#7f9aa8" stroke-width="1.5" stroke-dasharray="4 3"/></svg>
<svg class="a" style="left:118.0px;top:843.0px" width="4.0" height="22.0"><line x1="2.0" y1="2.0" x2="2.0" y2="20.0" stroke="#7f9aa8" stroke-width="1.5" stroke-dasharray="4 3"/></svg>
<svg class="a" style="left:593.0px;top:843.0px" width="4.0" height="22.0"><line x1="2.0" y1="2.0" x2="2.0" y2="20.0" stroke="#7f9aa8" stroke-width="1.5" stroke-dasharray="4 3"/></svg>
<svg class="a" style="left:355.0px;top:838.0px" width="16" height="16"><polygon points="0,8 15,1 15,15" fill="#6d8fa0"/></svg>
<div class="t" style="left:330.0px;top:818.5px;width:65.0px;height:25px;line-height:25px;direction:rtl;font-size:16.0px;color:#3d4a52;font-weight:normal;"><span id="t53" style="left:50%;transform:translateX(-50%) scaleX(1.000);transform-origin:50% 50%;">۷۲%</span></div>
<div class="a" style="left:1103px;top:721px;width:156px;height:188px;background:linear-gradient(40deg,#4fb5ab 0%,#2ea79a 45%,#129b8e 100%);box-shadow:inset 1px 0 0 rgba(0,60,50,0.18)"></div>
<div class="a" style="left:1126.0px;top:796.0px;width:111.0px;height:3.0px;background:rgba(255,255,255,0.3);border-radius:2px"></div>
<div class="a" style="left:1126.0px;top:859.0px;width:111.0px;height:3.0px;background:rgba(255,255,255,0.3);border-radius:2px"></div>
<div class="t" style="left:1145.0px;top:732.0px;width:73.8px;height:48px;line-height:48px;direction:rtl;font-size:30.0px;color:#f4f4f4;font-weight:bold;-webkit-text-stroke:1.3px #f4f4f4;"><span id="t54" style="left:50%;transform:translateX(-50%) scaleX(1.039);transform-origin:50% 50%;">میدکو</span></div>
<div class="t" style="left:1148.7px;top:798.0px;width:64.9px;height:60px;line-height:60px;direction:rtl;font-size:38.0px;color:#f4f4f4;font-weight:normal;"><span id="t55" style="left:50%;transform:translateX(-50%) scaleX(0.879);transform-origin:50% 50%;">۱۷%</span></div>
<div class="t" style="left:1128.5px;top:862.5px;width:78.1px;height:33px;line-height:33px;direction:rtl;font-size:21.0px;color:#f4f4f4;font-weight:normal;"><span id="t56" style="left:50%;transform:translateX(-50%) scaleX(1.044);transform-origin:50% 50%;">۵,۴۲۰<span style="font-size:14px">ریال</span></span></div>
<div class="a" style="left:21px;top:924px;width:1082px;height:190px;box-sizing:border-box;background:#fff;border-left:1px solid #c9c9c9;border-bottom:1px solid #c9c9c9;border-top:1px solid #e6e3e6"><div class="a" style="left:0.0px;top:0;width:119.1px;height:187px;background:linear-gradient(to bottom,rgba(213,74,74,0.13),rgba(213,74,74,0.0) 92%);border-right:1px solid rgba(213,74,74,0.11)"></div><div class="a" style="left:120.1px;top:0;width:119.1px;height:187px;background:linear-gradient(to bottom,rgba(230,120,75,0.13),rgba(230,120,75,0.0) 92%);border-right:1px solid rgba(230,120,75,0.11)"></div><div class="a" style="left:240.2px;top:0;width:119.1px;height:187px;background:linear-gradient(to bottom,rgba(241,163,91,0.13),rgba(241,163,91,0.0) 92%);border-right:1px solid rgba(241,163,91,0.11)"></div><div class="a" style="left:360.3px;top:0;width:119.1px;height:187px;background:linear-gradient(to bottom,rgba(233,196,107,0.13),rgba(233,196,107,0.0) 92%);border-right:1px solid rgba(233,196,107,0.11)"></div><div class="a" style="left:480.4px;top:0;width:119.1px;height:187px;background:linear-gradient(to bottom,rgba(201,198,107,0.13),rgba(201,198,107,0.0) 92%);border-right:1px solid rgba(201,198,107,0.11)"></div><div class="a" style="left:600.6px;top:0;width:119.1px;height:187px;background:linear-gradient(to bottom,rgba(152,185,95,0.13),rgba(152,185,95,0.0) 92%);border-right:1px solid rgba(152,185,95,0.11)"></div><div class="a" style="left:720.7px;top:0;width:119.1px;height:187px;background:linear-gradient(to bottom,rgba(98,168,94,0.13),rgba(98,168,94,0.0) 92%);border-right:1px solid rgba(98,168,94,0.11)"></div><div class="a" style="left:840.8px;top:0;width:119.1px;height:187px;background:linear-gradient(to bottom,rgba(8,150,95,0.13),rgba(8,150,95,0.0) 92%);border-right:1px solid rgba(8,150,95,0.11)"></div><div class="a" style="left:960.9px;top:0;width:119.1px;height:187px;background:linear-gradient(to bottom,rgba(11,121,110,0.13),rgba(11,121,110,0.0) 92%);border-right:1px solid rgba(11,121,110,0.11)"></div></div>
<div class="a" style="left:22.0px;top:1003.0px;width:1081.0px;height:2.0px;background:rgba(225,220,225,0.22)"></div>
<div class="a" style="left:65.6px;top:987.5px;width:33.0px;height:33.0px;box-sizing:border-box;border-radius:50%;border:5.5px solid #dedede;background:#efefef"></div>
<div class="a" style="left:546.0px;top:987.5px;width:33.0px;height:33.0px;box-sizing:border-box;border-radius:50%;border:5.5px solid #dedede;background:#efefef"></div>
<div class="a" style="left:666.1px;top:987.5px;width:33.0px;height:33.0px;box-sizing:border-box;border-radius:50%;border:5.5px solid #dedede;background:#efefef"></div>
<div class="a" style="left:786.2px;top:987.5px;width:33.0px;height:33.0px;box-sizing:border-box;border-radius:50%;border:5.5px solid #dedede;background:#efefef"></div>
<div class="a" style="left:922.8px;top:1003.0px;width:120.1px;height:2.0px;background:#2aa597"></div>
<div class="a" style="left:905.8px;top:987.0px;width:34.0px;height:34.0px;box-sizing:border-box;border-radius:50%;border:1.6px solid #1a97a6;background:#e0e0e0"></div>
<div class="a" style="left:910.3px;top:991.5px;width:25.0px;height:25.0px;border-radius:50%;background:#25a598"></div>
<div class="a" style="left:1026.4px;top:987.5px;width:33.0px;height:33.0px;box-sizing:border-box;border-radius:50%;border:4px solid #e0e0e0;background:#25a598"></div>
<div class="t" style="left:952.8px;top:982.0px;width:60.1px;height:22px;line-height:22px;direction:rtl;font-size:14.0px;color:#8a8a8a;font-weight:normal;"><span id="t57" style="left:50%;transform:translateX(-50%) scaleX(1.000);transform-origin:50% 50%;">۱۳ روز</span></div>
<div class="a" style="left:1006.0px;top:954.0px;width:74.0px;height:26.0px;background:#67be9c"></div>
<div class="t" style="left:1006.0px;top:955.0px;width:74.0px;height:24px;line-height:24px;direction:ltr;font-size:15.0px;color:#fff;font-weight:normal;"><span id="t58" style="left:50%;transform:translateX(-50%) scaleX(1.065);transform-origin:50% 50%;">۰۴/۰۸/۰۴</span></div>
<svg class="a" style="left:866.0px;top:965.0px" width="23.0" height="4.0"><line x1="2.0" y1="2.0" x2="21.0" y2="2.0" stroke="#b3baba" stroke-width="1.5" stroke-dasharray="4 3"/></svg>
<div class="a" style="left:887.0px;top:954.0px;width:71.0px;height:26.0px;background:#67be9c"></div>
<div class="t" style="left:887.0px;top:955.0px;width:71.0px;height:24px;line-height:24px;direction:ltr;font-size:15.0px;color:#fff;font-weight:normal;"><span id="t59" style="left:50%;transform:translateX(-50%) scaleX(1.029);transform-origin:50% 50%;">۰۴/۰۸/۱۷</span></div>
<div class="a" style="left:786.0px;top:953.0px;width:82.0px;height:28.0px;background:#bd4e8f"></div>
<div class="t" style="left:786.0px;top:955.0px;width:82.0px;height:24px;line-height:24px;direction:rtl;font-size:15.0px;color:#fff;font-weight:normal;"><span id="t60" style="left:50%;transform:translateX(-50%) scaleX(0.904);transform-origin:50% 50%;">۱۴۰ روز قبل</span></div>
<div class="a" style="left:19.0px;top:920.0px;width:148.0px;height:26.0px;background:#fd9a7d"></div>
<div class="t" style="left:19.0px;top:921.0px;width:148.0px;height:24px;line-height:24px;direction:ltr;font-size:15.5px;color:#fff;font-weight:normal;"><span id="t61" style="left:50%;transform:translateX(-50%) scaleX(0.922);transform-origin:50% 50%;">۱۴۰۴/۰۸/۱۷ ۰۹:۴۵:۰۴</span></div>
<div class="t" style="left:860.0px;top:1035.0px;width:218.0px;height:28px;line-height:28px;direction:rtl;font-size:18.0px;color:#d64b1c;font-weight:normal;"><span id="t62" style="right:0;transform:scaleX(1.028);transform-origin:100% 50%;">مازاد تجدید ارزیابی دارایی ها</span></div>
<svg class="a" style="left:169.6px;top:1079.5px" width="113.4" height="4.0"><line x1="111.4" y1="2.0" x2="2.0" y2="2.0" stroke="#a9b5bc" stroke-width="1.5" stroke-dasharray="4 3"/></svg>
<div class="a" style="left:39.0px;top:1067.0px;width:132.6px;height:29.0px;background:#76b473"></div>
<div class="t" style="left:45.0px;top:1067.5px;width:120.6px;height:28px;line-height:28px;direction:rtl;font-size:17.5px;color:#fff;font-weight:normal;"><span id="t63" style="left:50%;transform:translateX(-50%) scaleX(0.930);transform-origin:50% 50%;">۱۱۱ میلیارد تومان</span></div>
<div class="a" style="left:281.0px;top:1067.0px;width:153.0px;height:29.0px;background:#3fa8b9"></div>
<div class="t" style="left:287.0px;top:1067.5px;width:141.0px;height:28px;line-height:28px;direction:rtl;font-size:17.5px;color:#fff;font-weight:normal;"><span id="t64" style="left:50%;transform:translateX(-50%) scaleX(1.048);transform-origin:50% 50%;">۴۰.۵ میلیارد تومان</span></div>
<div class="t" style="left:440.0px;top:1067.0px;width:56.0px;height:27px;line-height:27px;direction:rtl;font-size:17.0px;color:#555;font-weight:normal;"><span id="t65" style="left:50%;transform:translateX(-50%) scaleX(1.005);transform-origin:50% 50%;">سرمایه:</span></div>
<svg class="a" style="left:220.0px;top:1073.5px" width="16" height="16"><polygon points="0,8 15,1 15,15" fill="#6d8fa0"/></svg>
<div class="t" style="left:195.0px;top:1050.0px;width:65.0px;height:25px;line-height:25px;direction:rtl;font-size:16.0px;color:#3d4a52;font-weight:normal;"><span id="t66" style="left:50%;transform:translateX(-50%) scaleX(1.000);transform-origin:50% 50%;">۱۷۴%</span></div>
<div class="a" style="left:1103px;top:925px;width:156px;height:188px;background:linear-gradient(40deg,#4fb5ab 0%,#2ea79a 45%,#129b8e 100%);box-shadow:inset 1px 0 0 rgba(0,60,50,0.18)"></div>
<div class="a" style="left:1126.0px;top:1000.0px;width:111.0px;height:3.0px;background:rgba(255,255,255,0.3);border-radius:2px"></div>
<div class="a" style="left:1126.0px;top:1063.0px;width:111.0px;height:3.0px;background:rgba(255,255,255,0.3);border-radius:2px"></div>
<div class="t" style="left:1148.7px;top:936.0px;width:66.6px;height:48px;line-height:48px;direction:rtl;font-size:30.0px;color:#f4f4f4;font-weight:bold;-webkit-text-stroke:1.3px #f4f4f4;"><span id="t67" style="left:50%;transform:translateX(-50%) scaleX(0.994);transform-origin:50% 50%;">فماک</span></div>
<div class="t" style="left:1136.3px;top:1002.0px;width:88.3px;height:60px;line-height:60px;direction:rtl;font-size:38.0px;color:#f4f4f4;font-weight:normal;"><span id="t68" style="left:50%;transform:translateX(-50%) scaleX(0.941);transform-origin:50% 50%;">۱۷۴%</span></div>
<div class="t" style="left:1129.0px;top:1066.5px;width:76.7px;height:33px;line-height:33px;direction:rtl;font-size:21.0px;color:#f4f4f4;font-weight:normal;"><span id="t69" style="left:50%;transform:translateX(-50%) scaleX(0.893);transform-origin:50% 50%;">۱۰,۴۱۰<span style="font-size:14px">ریال</span></span></div>
<div class="a" style="left:21px;top:1128px;width:1082px;height:190px;box-sizing:border-box;background:#fff;border-left:1px solid #c9c9c9;border-bottom:1px solid #c9c9c9;border-top:1px solid #e6e3e6"><div class="a" style="left:0.0px;top:0;width:119.1px;height:187px;background:linear-gradient(to bottom,rgba(213,74,74,0.13),rgba(213,74,74,0.0) 92%);border-right:1px solid rgba(213,74,74,0.11)"></div><div class="a" style="left:120.1px;top:0;width:119.1px;height:187px;background:linear-gradient(to bottom,rgba(230,120,75,0.13),rgba(230,120,75,0.0) 92%);border-right:1px solid rgba(230,120,75,0.11)"></div><div class="a" style="left:240.2px;top:0;width:119.1px;height:187px;background:linear-gradient(to bottom,rgba(241,163,91,0.13),rgba(241,163,91,0.0) 92%);border-right:1px solid rgba(241,163,91,0.11)"></div><div class="a" style="left:360.3px;top:0;width:119.1px;height:187px;background:linear-gradient(to bottom,rgba(233,196,107,0.13),rgba(233,196,107,0.0) 92%);border-right:1px solid rgba(233,196,107,0.11)"></div><div class="a" style="left:480.4px;top:0;width:119.1px;height:187px;background:linear-gradient(to bottom,rgba(201,198,107,0.13),rgba(201,198,107,0.0) 92%);border-right:1px solid rgba(201,198,107,0.11)"></div><div class="a" style="left:600.6px;top:0;width:119.1px;height:187px;background:linear-gradient(to bottom,rgba(152,185,95,0.13),rgba(152,185,95,0.0) 92%);border-right:1px solid rgba(152,185,95,0.11)"></div><div class="a" style="left:720.7px;top:0;width:119.1px;height:187px;background:linear-gradient(to bottom,rgba(98,168,94,0.13),rgba(98,168,94,0.0) 92%);border-right:1px solid rgba(98,168,94,0.11)"></div><div class="a" style="left:840.8px;top:0;width:119.1px;height:187px;background:linear-gradient(to bottom,rgba(8,150,95,0.13),rgba(8,150,95,0.0) 92%);border-right:1px solid rgba(8,150,95,0.11)"></div><div class="a" style="left:960.9px;top:0;width:119.1px;height:187px;background:linear-gradient(to bottom,rgba(11,121,110,0.13),rgba(11,121,110,0.0) 92%);border-right:1px solid rgba(11,121,110,0.11)"></div></div>
<div class="a" style="left:22.0px;top:1207.0px;width:1081.0px;height:2.0px;background:rgba(225,220,225,0.22)"></div>
<div class="a" style="left:65.6px;top:1191.5px;width:33.0px;height:33.0px;box-sizing:border-box;border-radius:50%;border:5.5px solid #dedede;background:#efefef"></div>
<div class="a" style="left:185.7px;top:1191.5px;width:33.0px;height:33.0px;box-sizing:border-box;border-radius:50%;border:5.5px solid #dedede;background:#efefef"></div>
<div class="a" style="left:305.8px;top:1191.5px;width:33.0px;height:33.0px;box-sizing:border-box;border-radius:50%;border:5.5px solid #dedede;background:#efefef"></div>
<div class="a" style="left:425.9px;top:1191.5px;width:33.0px;height:33.0px;box-sizing:border-box;border-radius:50%;border:5.5px solid #dedede;background:#efefef"></div>
<div class="a" style="left:546.0px;top:1191.5px;width:33.0px;height:33.0px;box-sizing:border-box;border-radius:50%;border:5.5px solid #dedede;background:#efefef"></div>
<div class="a" style="left:666.1px;top:1191.5px;width:33.0px;height:33.0px;box-sizing:border-box;border-radius:50%;border:5.5px solid #dedede;background:#efefef"></div>
<div class="a" style="left:786.2px;top:1191.5px;width:33.0px;height:33.0px;box-sizing:border-box;border-radius:50%;border:5.5px solid #dedede;background:#efefef"></div>
<div class="a" style="left:906.3px;top:1191.5px;width:33.0px;height:33.0px;box-sizing:border-box;border-radius:50%;border:5.5px solid #dedede;background:#efefef"></div>
<div class="a" style="left:1025.9px;top:1191.0px;width:34.0px;height:34.0px;box-sizing:border-box;border-radius:50%;border:1.6px solid #1a97a6;background:#e0e0e0"></div>
<div class="a" style="left:1030.4px;top:1195.5px;width:25.0px;height:25.0px;border-radius:50%;background:#25a598"></div>
<svg class="a" style="left:986.0px;top:1169.0px" width="22.0" height="4.0"><line x1="2.0" y1="2.0" x2="20.0" y2="2.0" stroke="#b3baba" stroke-width="1.5" stroke-dasharray="4 3"/></svg>
<div class="a" style="left:1006.0px;top:1158.0px;width:74.0px;height:26.0px;background:#67be9c"></div>
<div class="t" style="left:1006.0px;top:1159.0px;width:74.0px;height:24px;line-height:24px;direction:ltr;font-size:15.0px;color:#fff;font-weight:normal;"><span id="t70" style="left:50%;transform:translateX(-50%) scaleX(1.065);transform-origin:50% 50%;">۰۴/۰۸/۱۱</span></div>
<div class="a" style="left:907.0px;top:1157.0px;width:81.0px;height:28.0px;background:#bd4e8f"></div>
<div class="t" style="left:907.0px;top:1159.0px;width:81.0px;height:24px;line-height:24px;direction:rtl;font-size:15.0px;color:#fff;font-weight:normal;"><span id="t71" style="left:50%;transform:translateX(-50%) scaleX(0.904);transform-origin:50% 50%;">۱۴۶ روز قبل</span></div>
<div class="a" style="left:19.0px;top:1124.0px;width:148.0px;height:26.0px;background:#fd9a7d"></div>
<div class="t" style="left:19.0px;top:1125.0px;width:148.0px;height:24px;line-height:24px;direction:ltr;font-size:15.5px;color:#fff;font-weight:normal;"><span id="t72" style="left:50%;transform:translateX(-50%) scaleX(0.922);transform-origin:50% 50%;">۱۴۰۴/۰۸/۱۱ ۱۸:۳۶:۱۵</span></div>
<div class="t" style="left:757.0px;top:1239.0px;width:321.0px;height:28px;line-height:28px;direction:rtl;font-size:18.0px;color:#d64b1c;font-weight:normal;"><span id="t73" style="right:0;transform:scaleX(1.006);transform-origin:100% 50%;">مطالبات حال شده سهامداران و آورده نقدی</span></div>
<div class="t" style="left:815.0px;top:1274.0px;width:263.0px;height:28px;line-height:28px;direction:rtl;font-size:18.0px;color:#666;font-weight:normal;"><span id="t74" style="right:0;transform:scaleX(0.974);transform-origin:100% 50%;">مجموع مراحل افزایش سرمایه:<span dir="ltr" style="unicode-bidi:isolate">۸۴%</span></span></div>
<svg class="a" style="left:189.0px;top:1283.5px" width="90.0" height="4.0"><line x1="88.0" y1="2.0" x2="2.0" y2="2.0" stroke="#a9b5bc" stroke-width="1.5" stroke-dasharray="4 3"/></svg>
<svg class="a" style="left:435.0px;top:1283.5px" width="88.7" height="4.0"><line x1="86.7" y1="2.0" x2="2.0" y2="2.0" stroke="#a9b5bc" stroke-width="1.5" stroke-dasharray="4 3"/></svg>
<div class="a" style="left:39.0px;top:1271.0px;width:152.0px;height:29.0px;background:#76b473"></div>
<div class="t" style="left:45.0px;top:1271.5px;width:140.0px;height:28px;line-height:28px;direction:rtl;font-size:17.5px;color:#fff;font-weight:normal;"><span id="t75" style="left:50%;transform:translateX(-50%) scaleX(1.002);transform-origin:50% 50%;">۴۰۰۰ میلیارد تومان</span></div>
<div class="a" style="left:277.0px;top:1271.0px;width:160.0px;height:29.0px;background:#3fa8b9"></div>
<div class="t" style="left:283.0px;top:1271.5px;width:148.0px;height:28px;line-height:28px;direction:rtl;font-size:17.5px;color:#fff;font-weight:normal;"><span id="t76" style="left:50%;transform:translateX(-50%) scaleX(1.059);transform-origin:50% 50%;">۳۴۷۸ میلیارد تومان</span></div>
<div class="a" style="left:521.7px;top:1271.0px;width:153.8px;height:29.0px;background:repeating-linear-gradient(-55deg,#a4bcc7 0 7px,#95adb8 7px 8.5px)"></div>
<div class="t" style="left:527.7px;top:1271.5px;width:141.8px;height:28px;line-height:28px;direction:rtl;font-size:17.5px;color:#fff;font-weight:normal;"><span id="t77" style="left:50%;transform:translateX(-50%) scaleX(1.015);transform-origin:50% 50%;">۲۱۷۸ میلیارد تومان</span></div>
<div class="t" style="left:682.0px;top:1271.0px;width:55.0px;height:27px;line-height:27px;direction:rtl;font-size:17.0px;color:#555;font-weight:normal;"><span id="t78" style="left:50%;transform:translateX(-50%) scaleX(0.987);transform-origin:50% 50%;">سرمایه:</span></div>
<svg class="a" style="left:226.0px;top:1277.5px" width="16" height="16"><polygon points="0,8 15,1 15,15" fill="#6d8fa0"/></svg>
<div class="t" style="left:201.0px;top:1254.0px;width:65.0px;height:25px;line-height:25px;direction:rtl;font-size:16.0px;color:#3d4a52;font-weight:normal;"><span id="t79" style="left:50%;transform:translateX(-50%) scaleX(1.000);transform-origin:50% 50%;">۱۵%</span></div>
<div class="t" style="left:191.0px;top:1292.5px;width:85.0px;height:20px;line-height:20px;direction:rtl;font-size:13.0px;color:#3d4a52;font-weight:normal;"><span id="t80" style="left:50%;transform:translateX(-50%) scaleX(1.000);transform-origin:50% 50%;">مرحله فعلی</span></div>
<svg class="a" style="left:473.0px;top:1277.5px" width="16" height="16"><polygon points="0,8 15,1 15,15" fill="#a7bcc7"/></svg>
<div class="t" style="left:448.0px;top:1254.0px;width:65.0px;height:25px;line-height:25px;direction:rtl;font-size:16.0px;color:#9ab1bd;font-weight:normal;"><span id="t81" style="left:50%;transform:translateX(-50%) scaleX(1.000);transform-origin:50% 50%;">۶۰%</span></div>
<div class="t" style="left:438.0px;top:1292.5px;width:85.0px;height:20px;line-height:20px;direction:rtl;font-size:13.0px;color:#9ab1bd;font-weight:normal;"><span id="t82" style="left:50%;transform:translateX(-50%) scaleX(1.000);transform-origin:50% 50%;">مرحله قبلی</span></div>
<svg class="a" style="left:114.5px;top:1251.0px" width="485.5" height="4.0"><line x1="483.5" y1="2.0" x2="2.0" y2="2.0" stroke="#7f9aa8" stroke-width="1.5" stroke-dasharray="4 3"/></svg>
<svg class="a" style="left:114.5px;top:1251.0px" width="4.0" height="22.0"><line x1="2.0" y1="2.0" x2="2.0" y2="20.0" stroke="#7f9aa8" stroke-width="1.5" stroke-dasharray="4 3"/></svg>
<svg class="a" style="left:596.0px;top:1251.0px" width="4.0" height="22.0"><line x1="2.0" y1="2.0" x2="2.0" y2="20.0" stroke="#7f9aa8" stroke-width="1.5" stroke-dasharray="4 3"/></svg>
<svg class="a" style="left:350.0px;top:1246.0px" width="16" height="16"><polygon points="0,8 15,1 15,15" fill="#6d8fa0"/></svg>
<div class="t" style="left:325.0px;top:1226.5px;width:65.0px;height:25px;line-height:25px;direction:rtl;font-size:16.0px;color:#3d4a52;font-weight:normal;"><span id="t83" style="left:50%;transform:translateX(-50%) scaleX(1.000);transform-origin:50% 50%;">۸۴%</span></div>
<div class="a" style="left:1103px;top:1129px;width:156px;height:188px;background:linear-gradient(40deg,#4fb5ab 0%,#2ea79a 45%,#129b8e 100%);box-shadow:inset 1px 0 0 rgba(0,60,50,0.18)"></div>
<div class="a" style="left:1126.0px;top:1204.0px;width:111.0px;height:3.0px;background:rgba(255,255,255,0.3);border-radius:2px"></div>
<div class="a" style="left:1126.0px;top:1267.0px;width:111.0px;height:3.0px;background:rgba(255,255,255,0.3);border-radius:2px"></div>
<div class="t" style="left:1155.7px;top:1140.0px;width:52.1px;height:48px;line-height:48px;direction:rtl;font-size:30.0px;color:#f4f4f4;font-weight:bold;-webkit-text-stroke:1.3px #f4f4f4;"><span id="t84" style="left:50%;transform:translateX(-50%) scaleX(1.063);transform-origin:50% 50%;">امید</span></div>
<div class="t" style="left:1147.9px;top:1206.0px;width:65.7px;height:60px;line-height:60px;direction:rtl;font-size:38.0px;color:#f4f4f4;font-weight:normal;"><span id="t85" style="left:50%;transform:translateX(-50%) scaleX(0.890);transform-origin:50% 50%;">۱۵%</span></div>
<div class="t" style="left:1124.7px;top:1270.5px;width:86.8px;height:33px;line-height:33px;direction:rtl;font-size:21.0px;color:#f4f4f4;font-weight:normal;"><span id="t86" style="left:50%;transform:translateX(-50%) scaleX(1.160);transform-origin:50% 50%;">۳,۴۳۳<span style="font-size:14px">ریال</span></span></div>
<div class="a" style="left:21px;top:1331px;width:1082px;height:190px;box-sizing:border-box;background:#fff;border-left:1px solid #c9c9c9;border-bottom:1px solid #c9c9c9;border-top:1px solid #e6e3e6"><div class="a" style="left:0.0px;top:0;width:119.1px;height:187px;background:linear-gradient(to bottom,rgba(213,74,74,0.13),rgba(213,74,74,0.0) 92%);border-right:1px solid rgba(213,74,74,0.11)"></div><div class="a" style="left:120.1px;top:0;width:119.1px;height:187px;background:linear-gradient(to bottom,rgba(230,120,75,0.13),rgba(230,120,75,0.0) 92%);border-right:1px solid rgba(230,120,75,0.11)"></div><div class="a" style="left:240.2px;top:0;width:119.1px;height:187px;background:linear-gradient(to bottom,rgba(241,163,91,0.13),rgba(241,163,91,0.0) 92%);border-right:1px solid rgba(241,163,91,0.11)"></div><div class="a" style="left:360.3px;top:0;width:119.1px;height:187px;background:linear-gradient(to bottom,rgba(233,196,107,0.13),rgba(233,196,107,0.0) 92%);border-right:1px solid rgba(233,196,107,0.11)"></div><div class="a" style="left:480.4px;top:0;width:119.1px;height:187px;background:linear-gradient(to bottom,rgba(201,198,107,0.13),rgba(201,198,107,0.0) 92%);border-right:1px solid rgba(201,198,107,0.11)"></div><div class="a" style="left:600.6px;top:0;width:119.1px;height:187px;background:linear-gradient(to bottom,rgba(152,185,95,0.13),rgba(152,185,95,0.0) 92%);border-right:1px solid rgba(152,185,95,0.11)"></div><div class="a" style="left:720.7px;top:0;width:119.1px;height:187px;background:linear-gradient(to bottom,rgba(98,168,94,0.13),rgba(98,168,94,0.0) 92%);border-right:1px solid rgba(98,168,94,0.11)"></div><div class="a" style="left:840.8px;top:0;width:119.1px;height:187px;background:linear-gradient(to bottom,rgba(8,150,95,0.13),rgba(8,150,95,0.0) 92%);border-right:1px solid rgba(8,150,95,0.11)"></div><div class="a" style="left:960.9px;top:0;width:119.1px;height:187px;background:linear-gradient(to bottom,rgba(11,121,110,0.13),rgba(11,121,110,0.0) 92%);border-right:1px solid rgba(11,121,110,0.11)"></div></div>
<div class="a" style="left:22.0px;top:1410.0px;width:1081.0px;height:2.0px;background:rgba(225,220,225,0.22)"></div>
<div class="a" style="left:65.6px;top:1394.5px;width:33.0px;height:33.0px;box-sizing:border-box;border-radius:50%;border:5.5px solid #dedede;background:#efefef"></div>
<div class="a" style="left:546.0px;top:1394.5px;width:33.0px;height:33.0px;box-sizing:border-box;border-radius:50%;border:5.5px solid #dedede;background:#efefef"></div>
<div class="a" style="left:666.1px;top:1394.5px;width:33.0px;height:33.0px;box-sizing:border-box;border-radius:50%;border:5.5px solid #dedede;background:#efefef"></div>
<div class="a" style="left:786.2px;top:1394.5px;width:33.0px;height:33.0px;box-sizing:border-box;border-radius:50%;border:5.5px solid #dedede;background:#efefef"></div>
<div class="a" style="left:906.3px;top:1394.5px;width:33.0px;height:33.0px;box-sizing:border-box;border-radius:50%;border:5.5px solid #dedede;background:#efefef"></div>
<div class="a" style="left:1025.9px;top:1394.0px;width:34.0px;height:34.0px;box-sizing:border-box;border-radius:50%;border:1.6px solid #1a97a6;background:#e0e0e0"></div>
<div class="a" style="left:1030.4px;top:1398.5px;width:25.0px;height:25.0px;border-radius:50%;background:#25a598"></div>
<svg class="a" style="left:986.0px;top:1372.0px" width="22.0" height="4.0"><line x1="2.0" y1="2.0" x2="20.0" y2="2.0" stroke="#b3baba" stroke-width="1.5" stroke-dasharray="4 3"/></svg>
<div class="a" style="left:1006.0px;top:1361.0px;width:74.0px;height:26.0px;background:#67be9c"></div>
<div class="t" style="left:1006.0px;top:1362.0px;width:74.0px;height:24px;line-height:24px;direction:ltr;font-size:15.0px;color:#fff;font-weight:normal;"><span id="t87" style="left:50%;transform:translateX(-50%) scaleX(1.065);transform-origin:50% 50%;">۰۴/۰۸/۱۰</span></div>
<div class="a" style="left:907.0px;top:1360.0px;width:81.0px;height:28.0px;background:#bd4e8f"></div>
<div class="t" style="left:907.0px;top:1362.0px;width:81.0px;height:24px;line-height:24px;direction:rtl;font-size:15.0px;color:#fff;font-weight:normal;"><span id="t88" style="left:50%;transform:translateX(-50%) scaleX(0.904);transform-origin:50% 50%;">۱۴۷ روز قبل</span></div>
<div class="a" style="left:19.0px;top:1327.0px;width:148.0px;height:26.0px;background:#fd9a7d"></div>
<div class="t" style="left:19.0px;top:1328.0px;width:148.0px;height:24px;line-height:24px;direction:ltr;font-size:15.5px;color:#fff;font-weight:normal;"><span id="t89" style="left:50%;transform:translateX(-50%) scaleX(0.922);transform-origin:50% 50%;">۱۴۰۴/۰۸/۱۰ ۱۵:۵۴:۰۶</span></div>
<div class="t" style="left:990.0px;top:1442.0px;width:88.0px;height:28px;line-height:28px;direction:rtl;font-size:18.0px;color:#d64b1c;font-weight:normal;"><span id="t90" style="right:0;transform:scaleX(1.011);transform-origin:100% 50%;">سود انباشته</span></div>
<div class="t" style="left:815.0px;top:1477.0px;width:263.0px;height:28px;line-height:28px;direction:rtl;font-size:18.0px;color:#666;font-weight:normal;"><span id="t91" style="right:0;transform:scaleX(0.974);transform-origin:100% 50%;">مجموع مراحل افزایش سرمایه:<span dir="ltr" style="unicode-bidi:isolate">۵۴%</span></span></div>
<svg class="a" style="left:181.0px;top:1486.5px" width="105.7" height="4.0"><line x1="103.7" y1="2.0" x2="2.0" y2="2.0" stroke="#a9b5bc" stroke-width="1.5" stroke-dasharray="4 3"/></svg>
<svg class="a" style="left:427.0px;top:1486.5px" width="103.7" height="4.0"><line x1="101.7" y1="2.0" x2="2.0" y2="2.0" stroke="#a9b5bc" stroke-width="1.5" stroke-dasharray="4 3"/></svg>
<div class="a" style="left:39.0px;top:1474.0px;width:144.0px;height:29.0px;background:#ef8b5c"></div>
<div class="t" style="left:45.0px;top:1474.5px;width:132.0px;height:28px;line-height:28px;direction:rtl;font-size:17.5px;color:#fff;font-weight:normal;"><span id="t92" style="left:50%;transform:translateX(-50%) scaleX(1.018);transform-origin:50% 50%;">۶۰۰ میلیون تومان</span></div>
<div class="a" style="left:284.7px;top:1474.0px;width:144.3px;height:29.0px;background:#76b473"></div>
<div class="t" style="left:290.7px;top:1474.5px;width:132.3px;height:28px;line-height:28px;direction:rtl;font-size:17.5px;color:#fff;font-weight:normal;"><span id="t93" style="left:50%;transform:translateX(-50%) scaleX(1.020);transform-origin:50% 50%;">۵۰۰ میلیون تومان</span></div>
<div class="a" style="left:528.7px;top:1474.0px;width:146.8px;height:29.0px;background:#3fa8b9"></div>
<div class="t" style="left:534.7px;top:1474.5px;width:134.8px;height:28px;line-height:28px;direction:rtl;font-size:17.5px;color:#fff;font-weight:normal;"><span id="t94" style="left:50%;transform:translateX(-50%) scaleX(1.039);transform-origin:50% 50%;">۳۹۰ میلیون تومان</span></div>
<div class="t" style="left:682.0px;top:1474.0px;width:55.0px;height:27px;line-height:27px;direction:rtl;font-size:17.0px;color:#555;font-weight:normal;"><span id="t95" style="left:50%;transform:translateX(-50%) scaleX(0.987);transform-origin:50% 50%;">سرمایه:</span></div>
<svg class="a" style="left:226.0px;top:1480.5px" width="16" height="16"><polygon points="0,8 15,1 15,15" fill="#6d8fa0"/></svg>
<div class="t" style="left:201.0px;top:1457.0px;width:65.0px;height:25px;line-height:25px;direction:rtl;font-size:16.0px;color:#3d4a52;font-weight:normal;"><span id="t96" style="left:50%;transform:translateX(-50%) scaleX(1.000);transform-origin:50% 50%;">۲۰%</span></div>
<div class="t" style="left:191.0px;top:1495.5px;width:85.0px;height:20px;line-height:20px;direction:rtl;font-size:13.0px;color:#3d4a52;font-weight:normal;"><span id="t97" style="left:50%;transform:translateX(-50%) scaleX(1.000);transform-origin:50% 50%;">مرحله بعدی</span></div>
<svg class="a" style="left:470.0px;top:1480.5px" width="16" height="16"><polygon points="0,8 15,1 15,15" fill="#6d8fa0"/></svg>
<div class="t" style="left:445.0px;top:1457.0px;width:65.0px;height:25px;line-height:25px;direction:rtl;font-size:16.0px;color:#3d4a52;font-weight:normal;"><span id="t98" style="left:50%;transform:translateX(-50%) scaleX(1.000);transform-origin:50% 50%;">۲۸%</span></div>
<div class="t" style="left:435.0px;top:1495.5px;width:85.0px;height:20px;line-height:20px;direction:rtl;font-size:13.0px;color:#3d4a52;font-weight:normal;"><span id="t99" style="left:50%;transform:translateX(-50%) scaleX(1.000);transform-origin:50% 50%;">مرحله فعلی</span></div>
<svg class="a" style="left:110.5px;top:1454.0px" width="492.5" height="4.0"><line x1="490.5" y1="2.0" x2="2.0" y2="2.0" stroke="#7f9aa8" stroke-width="1.5" stroke-dasharray="4 3"/></svg>
<svg class="a" style="left:110.5px;top:1454.0px" width="4.0" height="22.0"><line x1="2.0" y1="2.0" x2="2.0" y2="20.0" stroke="#7f9aa8" stroke-width="1.5" stroke-dasharray="4 3"/></svg>
<svg class="a" style="left:599.0px;top:1454.0px" width="4.0" height="22.0"><line x1="2.0" y1="2.0" x2="2.0" y2="20.0" stroke="#7f9aa8" stroke-width="1.5" stroke-dasharray="4 3"/></svg>
<svg class="a" style="left:348.0px;top:1449.0px" width="16" height="16"><polygon points="0,8 15,1 15,15" fill="#6d8fa0"/></svg>
<div class="t" style="left:323.0px;top:1429.5px;width:65.0px;height:25px;line-height:25px;direction:rtl;font-size:16.0px;color:#3d4a52;font-weight:normal;"><span id="t100" style="left:50%;transform:translateX(-50%) scaleX(1.000);transform-origin:50% 50%;">۵۴%</span></div>
<div class="a" style="left:1103px;top:1332px;width:156px;height:188px;background:linear-gradient(40deg,#4fb5ab 0%,#2ea79a 45%,#129b8e 100%);box-shadow:inset 1px 0 0 rgba(0,60,50,0.18)"></div>
<div class="a" style="left:1126.0px;top:1407.0px;width:111.0px;height:3.0px;background:rgba(255,255,255,0.3);border-radius:2px"></div>
<div class="a" style="left:1126.0px;top:1470.0px;width:111.0px;height:3.0px;background:rgba(255,255,255,0.3);border-radius:2px"></div>
<div class="t" style="left:1148.7px;top:1343.0px;width:67.2px;height:48px;line-height:48px;direction:rtl;font-size:30.0px;color:#f4f4f4;font-weight:bold;-webkit-text-stroke:1.3px #f4f4f4;"><span id="t101" style="left:50%;transform:translateX(-50%) scaleX(1.050);transform-origin:50% 50%;">بخاور</span></div>
<div class="t" style="left:1143.0px;top:1409.0px;width:75.8px;height:60px;line-height:60px;direction:rtl;font-size:38.0px;color:#f4f4f4;font-weight:normal;"><span id="t102" style="left:50%;transform:translateX(-50%) scaleX(1.027);transform-origin:50% 50%;">۲۸%</span></div>
<div class="t" style="left:1128.5px;top:1473.5px;width:78.7px;height:33px;line-height:33px;direction:rtl;font-size:21.0px;color:#f4f4f4;font-weight:normal;"><span id="t103" style="left:50%;transform:translateX(-50%) scaleX(1.052);transform-origin:50% 50%;">۴,۶۰۸<span style="font-size:14px">ریال</span></span></div>
<div class="a" style="left:21px;top:1535px;width:1082px;height:190px;box-sizing:border-box;background:#fff;border-left:1px solid #c9c9c9;border-bottom:1px solid #c9c9c9;border-top:1px solid #e6e3e6"><div class="a" style="left:0.0px;top:0;width:119.1px;height:187px;background:linear-gradient(to bottom,rgba(213,74,74,0.13),rgba(213,74,74,0.0) 92%);border-right:1px solid rgba(213,74,74,0.11)"></div><div class="a" style="left:120.1px;top:0;width:119.1px;height:187px;background:linear-gradient(to bottom,rgba(230,120,75,0.13),rgba(230,120,75,0.0) 92%);border-right:1px solid rgba(230,120,75,0.11)"></div><div class="a" style="left:240.2px;top:0;width:119.1px;height:187px;background:linear-gradient(to bottom,rgba(241,163,91,0.13),rgba(241,163,91,0.0) 92%);border-right:1px solid rgba(241,163,91,0.11)"></div><div class="a" style="left:360.3px;top:0;width:119.1px;height:187px;background:linear-gradient(to bottom,rgba(233,196,107,0.13),rgba(233,196,107,0.0) 92%);border-right:1px solid rgba(233,196,107,0.11)"></div><div class="a" style="left:480.4px;top:0;width:119.1px;height:187px;background:linear-gradient(to bottom,rgba(201,198,107,0.13),rgba(201,198,107,0.0) 92%);border-right:1px solid rgba(201,198,107,0.11)"></div><div class="a" style="left:600.6px;top:0;width:119.1px;height:187px;background:linear-gradient(to bottom,rgba(152,185,95,0.13),rgba(152,185,95,0.0) 92%);border-right:1px solid rgba(152,185,95,0.11)"></div><div class="a" style="left:720.7px;top:0;width:119.1px;height:187px;background:linear-gradient(to bottom,rgba(98,168,94,0.13),rgba(98,168,94,0.0) 92%);border-right:1px solid rgba(98,168,94,0.11)"></div><div class="a" style="left:840.8px;top:0;width:119.1px;height:187px;background:linear-gradient(to bottom,rgba(8,150,95,0.13),rgba(8,150,95,0.0) 92%);border-right:1px solid rgba(8,150,95,0.11)"></div><div class="a" style="left:960.9px;top:0;width:119.1px;height:187px;background:linear-gradient(to bottom,rgba(11,121,110,0.13),rgba(11,121,110,0.0) 92%);border-right:1px solid rgba(11,121,110,0.11)"></div></div>
<div class="a" style="left:22.0px;top:1614.0px;width:1081.0px;height:2.0px;background:rgba(225,220,225,0.22)"></div>
<div class="a" style="left:65.6px;top:1598.5px;width:33.0px;height:33.0px;box-sizing:border-box;border-radius:50%;border:5.5px solid #dedede;background:#efefef"></div>
<div class="a" style="left:546.0px;top:1598.5px;width:33.0px;height:33.0px;box-sizing:border-box;border-radius:50%;border:5.5px solid #dedede;background:#efefef"></div>
<div class="a" style="left:666.1px;top:1598.5px;width:33.0px;height:33.0px;box-sizing:border-box;border-radius:50%;border:5.5px solid #dedede;background:#efefef"></div>
<div class="a" style="left:786.2px;top:1598.5px;width:33.0px;height:33.0px;box-sizing:border-box;border-radius:50%;border:5.5px solid #dedede;background:#efefef"></div>
<div class="a" style="left:922.8px;top:1614.0px;width:120.1px;height:2.0px;background:#2aa597"></div>
<div class="a" style="left:905.8px;top:1598.0px;width:34.0px;height:34.0px;box-sizing:border-box;border-radius:50%;border:1.6px solid #1a97a6;background:#e0e0e0"></div>
<div class="a" style="left:910.3px;top:1602.5px;width:25.0px;height:25.0px;border-radius:50%;background:#25a598"></div>
<div class="a" style="left:1026.4px;top:1598.5px;width:33.0px;height:33.0px;box-sizing:border-box;border-radius:50%;border:4px solid #e0e0e0;background:#25a598"></div>
<div class="t" style="left:952.8px;top:1593.0px;width:60.1px;height:22px;line-height:22px;direction:rtl;font-size:14.0px;color:#8a8a8a;font-weight:normal;"><span id="t104" style="left:50%;transform:translateX(-50%) scaleX(1.000);transform-origin:50% 50%;">۳۷ روز</span></div>
<div class="a" style="left:1006.0px;top:1565.0px;width:74.0px;height:26.0px;background:#67be9c"></div>
<div class="t" style="left:1006.0px;top:1566.0px;width:74.0px;height:24px;line-height:24px;direction:ltr;font-size:15.0px;color:#fff;font-weight:normal;"><span id="t105" style="left:50%;transform:translateX(-50%) scaleX(1.065);transform-origin:50% 50%;">۰۴/۰۷/۰۳</span></div>
<svg class="a" style="left:866.0px;top:1576.0px" width="23.0" height="4.0"><line x1="2.0" y1="2.0" x2="21.0" y2="2.0" stroke="#b3baba" stroke-width="1.5" stroke-dasharray="4 3"/></svg>
<div class="a" style="left:887.0px;top:1565.0px;width:71.0px;height:26.0px;background:#67be9c"></div>
<div class="t" style="left:887.0px;top:1566.0px;width:71.0px;height:24px;line-height:24px;direction:ltr;font-size:15.0px;color:#fff;font-weight:normal;"><span id="t106" style="left:50%;transform:translateX(-50%) scaleX(1.029);transform-origin:50% 50%;">۰۴/۰۸/۱۰</span></div>
<div class="a" style="left:786.0px;top:1564.0px;width:82.0px;height:28.0px;background:#bd4e8f"></div>
<div class="t" style="left:786.0px;top:1566.0px;width:82.0px;height:24px;line-height:24px;direction:rtl;font-size:15.0px;color:#fff;font-weight:normal;"><span id="t107" style="left:50%;transform:translateX(-50%) scaleX(0.904);transform-origin:50% 50%;">۱۴۷ روز قبل</span></div>
<div class="a" style="left:19.0px;top:1531.0px;width:148.0px;height:26.0px;background:#fd9a7d"></div>
<div class="t" style="left:19.0px;top:1532.0px;width:148.0px;height:24px;line-height:24px;direction:ltr;font-size:15.5px;color:#fff;font-weight:normal;"><span id="t108" style="left:50%;transform:translateX(-50%) scaleX(0.922);transform-origin:50% 50%;">۱۴۰۴/۰۸/۱۰ ۱۵:۰۳:۳۵</span></div>
<div class="t" style="left:762.0px;top:1646.0px;width:316.0px;height:28px;line-height:28px;direction:rtl;font-size:18.0px;color:#d64b1c;font-weight:normal;"><span id="t109" style="right:0;transform:scaleX(1.019);transform-origin:100% 50%;">سود انباشته ،مازاد تجدید ارزیابی دارایی ها</span></div>
<svg class="a" style="left:181.3px;top:1690.5px" width="108.7" height="4.0"><line x1="106.7" y1="2.0" x2="2.0" y2="2.0" stroke="#a9b5bc" stroke-width="1.5" stroke-dasharray="4 3"/></svg>
<div class="a" style="left:39.0px;top:1678.0px;width:144.3px;height:29.0px;background:#76b473"></div>
<div class="t" style="left:45.0px;top:1678.5px;width:132.3px;height:28px;line-height:28px;direction:rtl;font-size:17.5px;color:#fff;font-weight:normal;"><span id="t110" style="left:50%;transform:translateX(-50%) scaleX(1.020);transform-origin:50% 50%;">۵۰۰ میلیارد تومان</span></div>
<div class="a" style="left:288.0px;top:1678.0px;width:138.6px;height:29.0px;background:#3fa8b9"></div>
<div class="t" style="left:294.0px;top:1678.5px;width:126.6px;height:28px;line-height:28px;direction:rtl;font-size:17.5px;color:#fff;font-weight:normal;"><span id="t111" style="left:50%;transform:translateX(-50%) scaleX(0.976);transform-origin:50% 50%;">۱۹۰ میلیارد تومان</span></div>
<div class="t" style="left:433.0px;top:1678.0px;width:56.0px;height:27px;line-height:27px;direction:rtl;font-size:17.0px;color:#555;font-weight:normal;"><span id="t112" style="left:50%;transform:translateX(-50%) scaleX(1.005);transform-origin:50% 50%;">سرمایه:</span></div>
<svg class="a" style="left:230.0px;top:1684.5px" width="16" height="16"><polygon points="0,8 15,1 15,15" fill="#6d8fa0"/></svg>
<div class="t" style="left:205.0px;top:1661.0px;width:65.0px;height:25px;line-height:25px;direction:rtl;font-size:16.0px;color:#3d4a52;font-weight:normal;"><span id="t113" style="left:50%;transform:translateX(-50%) scaleX(1.000);transform-origin:50% 50%;">۱۶۳%</span></div>
<div class="a" style="left:1103px;top:1536px;width:156px;height:188px;background:linear-gradient(40deg,#4fb5ab 0%,#2ea79a 45%,#129b8e 100%);box-shadow:inset 1px 0 0 rgba(0,60,50,0.18)"></div>
<div class="a" style="left:1126.0px;top:1611.0px;width:111.0px;height:3.0px;background:rgba(255,255,255,0.3);border-radius:2px"></div>
<div class="a" style="left:1126.0px;top:1674.0px;width:111.0px;height:3.0px;background:rgba(255,255,255,0.3);border-radius:2px"></div>
<div class="t" style="left:1148.7px;top:1547.0px;width:64.8px;height:48px;line-height:48px;direction:rtl;font-size:30.0px;color:#f4f4f4;font-weight:bold;-webkit-text-stroke:1.3px #f4f4f4;"><span id="t114" style="left:50%;transform:translateX(-50%) scaleX(0.888);transform-origin:50% 50%;">غشهد</span></div>
<div class="t" style="left:1136.3px;top:1613.0px;width:88.6px;height:60px;line-height:60px;direction:rtl;font-size:38.0px;color:#f4f4f4;font-weight:normal;"><span id="t115" style="left:50%;transform:translateX(-50%) scaleX(0.945);transform-origin:50% 50%;">۱۶۳%</span></div>
<div class="t" style="left:1127.4px;top:1677.5px;width:80.4px;height:33px;line-height:33px;direction:rtl;font-size:21.0px;color:#f4f4f4;font-weight:normal;"><span id="t116" style="left:50%;transform:translateX(-50%) scaleX(1.074);transform-origin:50% 50%;">۶,۷۳۰<span style="font-size:14px">ریال</span></span></div>
<div class="a" style="left:21px;top:1739px;width:1082px;height:190px;box-sizing:border-box;background:#fff;border-left:1px solid #c9c9c9;border-bottom:1px solid #c9c9c9;border-top:1px solid #e6e3e6"><div class="a" style="left:0.0px;top:0;width:119.1px;height:187px;background:linear-gradient(to bottom,rgba(213,74,74,0.13),rgba(213,74,74,0.0) 92%);border-right:1px solid rgba(213,74,74,0.11)"></div><div class="a" style="left:120.1px;top:0;width:119.1px;height:187px;background:linear-gradient(to bottom,rgba(230,120,75,0.13),rgba(230,120,75,0.0) 92%);border-right:1px solid rgba(230,120,75,0.11)"></div><div class="a" style="left:240.2px;top:0;width:119.1px;height:187px;background:linear-gradient(to bottom,rgba(241,163,91,0.13),rgba(241,163,91,0.0) 92%);border-right:1px solid rgba(241,163,91,0.11)"></div><div class="a" style="left:360.3px;top:0;width:119.1px;height:187px;background:linear-gradient(to bottom,rgba(233,196,107,0.13),rgba(233,196,107,0.0) 92%);border-right:1px solid rgba(233,196,107,0.11)"></div><div class="a" style="left:480.4px;top:0;width:119.1px;height:187px;background:linear-gradient(to bottom,rgba(201,198,107,0.13),rgba(201,198,107,0.0) 92%);border-right:1px solid rgba(201,198,107,0.11)"></div><div class="a" style="left:600.6px;top:0;width:119.1px;height:187px;background:linear-gradient(to bottom,rgba(152,185,95,0.13),rgba(152,185,95,0.0) 92%);border-right:1px solid rgba(152,185,95,0.11)"></div><div class="a" style="left:720.7px;top:0;width:119.1px;height:187px;background:linear-gradient(to bottom,rgba(98,168,94,0.13),rgba(98,168,94,0.0) 92%);border-right:1px solid rgba(98,168,94,0.11)"></div><div class="a" style="left:840.8px;top:0;width:119.1px;height:187px;background:linear-gradient(to bottom,rgba(8,150,95,0.13),rgba(8,150,95,0.0) 92%);border-right:1px solid rgba(8,150,95,0.11)"></div><div class="a" style="left:960.9px;top:0;width:119.1px;height:187px;background:linear-gradient(to bottom,rgba(11,121,110,0.13),rgba(11,121,110,0.0) 92%);border-right:1px solid rgba(11,121,110,0.11)"></div></div>
<div class="a" style="left:22.0px;top:1818.0px;width:1081.0px;height:2.0px;background:rgba(225,220,225,0.22)"></div>
<div class="a" style="left:65.6px;top:1802.5px;width:33.0px;height:33.0px;box-sizing:border-box;border-radius:50%;border:5.5px solid #dedede;background:#efefef"></div>
<div class="a" style="left:546.0px;top:1802.5px;width:33.0px;height:33.0px;box-sizing:border-box;border-radius:50%;border:5.5px solid #dedede;background:#efefef"></div>
<div class="a" style="left:666.1px;top:1802.5px;width:33.0px;height:33.0px;box-sizing:border-box;border-radius:50%;border:5.5px solid #dedede;background:#efefef"></div>
<div class="a" style="left:786.2px;top:1802.5px;width:33.0px;height:33.0px;box-sizing:border-box;border-radius:50%;border:5.5px solid #dedede;background:#efefef"></div>
<div class="a" style="left:922.8px;top:1818.0px;width:120.1px;height:2.0px;background:#2aa597"></div>
<div class="a" style="left:905.8px;top:1802.0px;width:34.0px;height:34.0px;box-sizing:border-box;border-radius:50%;border:1.6px solid #1a97a6;background:#e0e0e0"></div>
<div class="a" style="left:910.3px;top:1806.5px;width:25.0px;height:25.0px;border-radius:50%;background:#25a598"></div>
<div class="a" style="left:1026.4px;top:1802.5px;width:33.0px;height:33.0px;box-sizing:border-box;border-radius:50%;border:4px solid #e0e0e0;background:#25a598"></div>
<div class="t" style="left:952.8px;top:1797.0px;width:60.1px;height:22px;line-height:22px;direction:rtl;font-size:14.0px;color:#8a8a8a;font-weight:normal;"><span id="t117" style="left:50%;transform:translateX(-50%) scaleX(1.000);transform-origin:50% 50%;">۵ روز</span></div>
<div class="a" style="left:1006.0px;top:1769.0px;width:74.0px;height:26.0px;background:#67be9c"></div>
<div class="t" style="left:1006.0px;top:1770.0px;width:74.0px;height:24px;line-height:24px;direction:ltr;font-size:15.0px;color:#fff;font-weight:normal;"><span id="t118" style="left:50%;transform:translateX(-50%) scaleX(1.065);transform-origin:50% 50%;">۰۴/۰۸/۰۴</span></div>
<svg class="a" style="left:866.0px;top:1780.0px" width="23.0" height="4.0"><line x1="2.0" y1="2.0" x2="21.0" y2="2.0" stroke="#b3baba" stroke-width="1.5" stroke-dasharray="4 3"/></svg>
<div class="a" style="left:887.0px;top:1769.0px;width:71.0px;height:26.0px;background:#67be9c"></div>
<div class="t" style="left:887.0px;top:1770.0px;width:71.0px;height:24px;line-height:24px;direction:ltr;font-size:15.0px;color:#fff;font-weight:normal;"><span id="t119" style="left:50%;transform:translateX(-50%) scaleX(1.029);transform-origin:50% 50%;">۰۴/۰۸/۱۰</span></div>
<div class="a" style="left:786.0px;top:1768.0px;width:82.0px;height:28.0px;background:#bd4e8f"></div>
<div class="t" style="left:786.0px;top:1770.0px;width:82.0px;height:24px;line-height:24px;direction:rtl;font-size:15.0px;color:#fff;font-weight:normal;"><span id="t120" style="left:50%;transform:translateX(-50%) scaleX(0.904);transform-origin:50% 50%;">۱۴۷ روز قبل</span></div>
<div class="a" style="left:19.0px;top:1735.0px;width:148.0px;height:26.0px;background:#fd9a7d"></div>
<div class="t" style="left:19.0px;top:1736.0px;width:148.0px;height:24px;line-height:24px;direction:ltr;font-size:15.5px;color:#fff;font-weight:normal;"><span id="t121" style="left:50%;transform:translateX(-50%) scaleX(0.922);transform-origin:50% 50%;">۱۴۰۴/۰۸/۱۰ ۱۴:۴۴:۲۱</span></div>
<div class="t" style="left:990.0px;top:1850.0px;width:88.0px;height:28px;line-height:28px;direction:rtl;font-size:18.0px;color:#d64b1c;font-weight:normal;"><span id="t122" style="right:0;transform:scaleX(1.011);transform-origin:100% 50%;">سود انباشته</span></div>
<svg class="a" style="left:188.7px;top:1894.5px" width="96.3" height="4.0"><line x1="94.3" y1="2.0" x2="2.0" y2="2.0" stroke="#a9b5bc" stroke-width="1.5" stroke-dasharray="4 3"/></svg>
<div class="a" style="left:39.0px;top:1882.0px;width:151.7px;height:29.0px;background:#76b473"></div>
<div class="t" style="left:45.0px;top:1882.5px;width:139.7px;height:28px;line-height:28px;direction:rtl;font-size:17.5px;color:#fff;font-weight:normal;"><span id="t123" style="left:50%;transform:translateX(-50%) scaleX(1.077);transform-origin:50% 50%;">۵۸۳ میلیارد تومان</span></div>
<div class="a" style="left:283.0px;top:1882.0px;width:148.0px;height:29.0px;background:#3fa8b9"></div>
<div class="t" style="left:289.0px;top:1882.5px;width:136.0px;height:28px;line-height:28px;direction:rtl;font-size:17.5px;color:#fff;font-weight:normal;"><span id="t124" style="left:50%;transform:translateX(-50%) scaleX(1.048);transform-origin:50% 50%;">۴۸۶ میلیارد تومان</span></div>
<div class="t" style="left:437.0px;top:1882.0px;width:56.0px;height:27px;line-height:27px;direction:rtl;font-size:17.0px;color:#555;font-weight:normal;"><span id="t125" style="left:50%;transform:translateX(-50%) scaleX(1.005);transform-origin:50% 50%;">سرمایه:</span></div>
<svg class="a" style="left:231.0px;top:1888.5px" width="16" height="16"><polygon points="0,8 15,1 15,15" fill="#6d8fa0"/></svg>
<div class="t" style="left:206.0px;top:1865.0px;width:65.0px;height:25px;line-height:25px;direction:rtl;font-size:16.0px;color:#3d4a52;font-weight:normal;"><span id="t126" style="left:50%;transform:translateX(-50%) scaleX(1.000);transform-origin:50% 50%;">۲۰%</span></div>
<div class="a" style="left:1103px;top:1740px;width:156px;height:188px;background:linear-gradient(40deg,#4fb5ab 0%,#2ea79a 45%,#129b8e 100%);box-shadow:inset 1px 0 0 rgba(0,60,50,0.18)"></div>
<div class="a" style="left:1126.0px;top:1815.0px;width:111.0px;height:3.0px;background:rgba(255,255,255,0.3);border-radius:2px"></div>
<div class="a" style="left:1126.0px;top:1878.0px;width:111.0px;height:3.0px;background:rgba(255,255,255,0.3);border-radius:2px"></div>
<div class="t" style="left:1153.5px;top:1751.0px;width:55.2px;height:48px;line-height:48px;direction:rtl;font-size:30.0px;color:#f4f4f4;font-weight:bold;-webkit-text-stroke:1.3px #f4f4f4;"><span id="t127" style="left:50%;transform:translateX(-50%) scaleX(0.905);transform-origin:50% 50%;">لابسا</span></div>
<div class="t" style="left:1145.9px;top:1817.0px;width:68.5px;height:60px;line-height:60px;direction:rtl;font-size:38.0px;color:#f4f4f4;font-weight:normal;"><span id="t128" style="left:50%;transform:translateX(-50%) scaleX(0.928);transform-origin:50% 50%;">۲۰%</span></div>
<div class="t" style="left:1130.6px;top:1881.5px;width:75.3px;height:33px;line-height:33px;direction:rtl;font-size:21.0px;color:#f4f4f4;font-weight:normal;"><span id="t129" style="left:50%;transform:translateX(-50%) scaleX(1.006);transform-origin:50% 50%;">۳,۱۹۴<span style="font-size:14px">ریال</span></span></div>
<div class="a" style="left:0;top:0;width:1280px;height:2058px;opacity:0.165"><div class="a" style="left:322.5px;top:1464.0px;width:0;height:0"><div style="position:absolute;left:-200px;top:-150px;width:400px;height:300px;line-height:300px;text-align:center;font-size:225px;color:#383838;-webkit-text-stroke:0.4px #383838;transform:rotate(-54.5deg)">@</div></div><div class="a" style="left:413.6px;top:1311.2px;width:0;height:0"><div style="position:absolute;left:-200px;top:-150px;width:400px;height:300px;line-height:300px;text-align:center;font-size:225px;color:#383838;-webkit-text-stroke:0.4px #383838;transform:rotate(-54.5deg)">C</div></div><div class="a" style="left:497.0px;top:1214.4px;width:0;height:0"><div style="position:absolute;left:-200px;top:-150px;width:400px;height:300px;line-height:300px;text-align:center;font-size:225px;color:#383838;-webkit-text-stroke:0.4px #383838;transform:rotate(-54.5deg)">o</div></div><div class="a" style="left:565.5px;top:1118.3px;width:0;height:0"><div style="position:absolute;left:-200px;top:-150px;width:400px;height:300px;line-height:300px;text-align:center;font-size:225px;color:#383838;-webkit-text-stroke:0.4px #383838;transform:rotate(-54.5deg)">d</div></div><div class="a" style="left:631.0px;top:1026.5px;width:0;height:0"><div style="position:absolute;left:-200px;top:-150px;width:400px;height:300px;line-height:300px;text-align:center;font-size:225px;color:#383838;-webkit-text-stroke:0.4px #383838;transform:rotate(-54.5deg)">a</div></div><div class="a" style="left:686.9px;top:948.2px;width:0;height:0"><div style="position:absolute;left:-200px;top:-150px;width:400px;height:300px;line-height:300px;text-align:center;font-size:225px;color:#383838;-webkit-text-stroke:0.4px #383838;transform:rotate(-54.5deg)">l</div></div><div class="a" style="left:754.9px;top:852.8px;width:0;height:0"><div style="position:absolute;left:-200px;top:-150px;width:400px;height:300px;line-height:300px;text-align:center;font-size:225px;color:#383838;-webkit-text-stroke:0.4px #383838;transform:rotate(-54.5deg)">c</div></div><div class="a" style="left:820.8px;top:760.4px;width:0;height:0"><div style="position:absolute;left:-200px;top:-150px;width:400px;height:300px;line-height:300px;text-align:center;font-size:225px;color:#383838;-webkit-text-stroke:0.4px #383838;transform:rotate(-54.5deg)">h</div></div><div class="a" style="left:891.9px;top:660.8px;width:0;height:0"><div style="position:absolute;left:-200px;top:-150px;width:400px;height:300px;line-height:300px;text-align:center;font-size:225px;color:#383838;-webkit-text-stroke:0.4px #383838;transform:rotate(-54.5deg)">a</div></div><div class="a" style="left:980.3px;top:536.8px;width:0;height:0"><div style="position:absolute;left:-200px;top:-150px;width:400px;height:300px;line-height:300px;text-align:center;font-size:225px;color:#383838;-webkit-text-stroke:0.4px #383838;transform:rotate(-54.5deg)">t</div></div></div>
<svg class="a" style="left:0;top:1940px" width="1280" height="118"><polygon points="0,8 250,8 286,64 1280,64 1280,118 0,118" fill="#454c4a"/><polygon points="286,8 420,8 449,51 312,51" fill="#0b6e4d"/><polygon points="420,8 549,8 578,51 449,51" fill="#14845b"/><polygon points="549,8 679,8 708,51 578,51" fill="#2dba8a"/><polygon points="729,24 1280,24 1280,35 736,35" fill="#22a37a"/></svg>
<div class="t" style="left:15.0px;top:1960.5px;width:143.0px;height:35px;line-height:35px;direction:ltr;font-size:22.0px;color:#f0f0f0;font-weight:normal;"><span id="t130" style="left:0;transform:scaleX(1.070);transform-origin:0 50%;">@CodalChart</span></div>
<div class="a" style="left:15.0px;top:2004.0px;width:216.0px;height:1.0px;background:#e8e8e8"></div>
<div class="t" style="left:15.0px;top:2009.0px;width:145.0px;height:30px;line-height:30px;direction:rtl;font-size:19.0px;color:#f0f0f0;font-weight:normal;"><span id="t131" style="left:0;transform:scaleX(1.086);transform-origin:0 50%;">کانال کدال چارت</span></div>
<div class="t" style="left:1003.0px;top:2013.5px;width:260.0px;height:25px;line-height:25px;direction:rtl;font-size:16.0px;color:#f0f0f0;font-weight:normal;"><span id="t132" style="right:0;transform:scaleX(0.959);transform-origin:100% 50%;">شنبه ۰۸ فروردین ۱۴۰۵ ساعت ۲۱:۲۴:۳۷</span></div>
</body></html>
